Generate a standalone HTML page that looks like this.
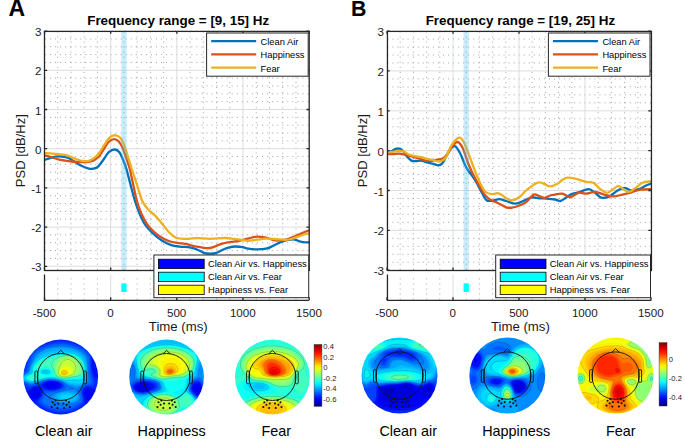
<!DOCTYPE html>
<html><head><meta charset="utf-8"><title>PSD figure</title>
<style>html,body{margin:0;padding:0;background:#fff;}body{width:685px;height:439px;overflow:hidden;font-family:"Liberation Sans", sans-serif;}svg{display:block;}</style>
</head><body>
<svg width="685" height="439" viewBox="0 0 685 439" font-family='"Liberation Sans", sans-serif'>
<defs>
<filter id="bl" x="-20%" y="-20%" width="140%" height="140%"><feGaussianBlur stdDeviation="0.5"/></filter>
<linearGradient id="jet" x1="0" y1="0" x2="0" y2="1"><stop offset="0.000" stop-color="#800000"/><stop offset="0.050" stop-color="#b30000"/><stop offset="0.100" stop-color="#e50000"/><stop offset="0.150" stop-color="#ff1a00"/><stop offset="0.200" stop-color="#ff4c00"/><stop offset="0.250" stop-color="#ff8000"/><stop offset="0.300" stop-color="#ffb300"/><stop offset="0.350" stop-color="#ffe500"/><stop offset="0.400" stop-color="#e5ff1a"/><stop offset="0.450" stop-color="#b3ff4c"/><stop offset="0.500" stop-color="#80ff80"/><stop offset="0.550" stop-color="#4cffb3"/><stop offset="0.600" stop-color="#1affe5"/><stop offset="0.650" stop-color="#00e5ff"/><stop offset="0.700" stop-color="#00b3ff"/><stop offset="0.750" stop-color="#0080ff"/><stop offset="0.800" stop-color="#004cff"/><stop offset="0.850" stop-color="#001aff"/><stop offset="0.900" stop-color="#0000e5"/><stop offset="0.950" stop-color="#0000b3"/><stop offset="1.000" stop-color="#000080"/></linearGradient>
</defs>
<rect width="685" height="439" fill="#fff"/>
<text x="8.60" y="15.90" font-size="23" text-anchor="start" font-weight="bold" fill="#000" >A</text>
<text transform="translate(351.0,15.9) scale(0.93,1)" font-size="23" font-weight="bold">B</text>
<clipPath id="ca"><rect x="44.5" y="31.1" width="264.7" height="239.1"/></clipPath>
<path d="M57.73 269.80V31.10M57.73 299.60V274.50M70.97 269.80V31.10M70.97 299.60V274.50M84.20 269.80V31.10M84.20 299.60V274.50M97.44 269.80V31.10M97.44 299.60V274.50M123.91 269.80V31.10M123.91 299.60V274.50M137.14 269.80V31.10M137.14 299.60V274.50M150.38 269.80V31.10M150.38 299.60V274.50M163.62 269.80V31.10M163.62 299.60V274.50M190.09 269.80V31.10M190.09 299.60V274.50M203.32 269.80V31.10M203.32 299.60V274.50M216.56 269.80V31.10M216.56 299.60V274.50M229.79 269.80V31.10M229.79 299.60V274.50M256.26 269.80V31.10M256.26 299.60V274.50M269.50 269.80V31.10M269.50 299.60V274.50M282.73 269.80V31.10M282.73 299.60V274.50M295.96 269.80V31.10M295.96 299.60V274.50M44.90 38.94H309.20M44.90 46.78H309.20M44.90 54.62H309.20M44.90 62.46H309.20M44.90 78.14H309.20M44.90 85.98H309.20M44.90 93.81H309.20M44.90 101.65H309.20M44.90 117.33H309.20M44.90 125.17H309.20M44.90 133.01H309.20M44.90 140.85H309.20M44.90 156.53H309.20M44.90 164.37H309.20M44.90 172.21H309.20M44.90 180.05H309.20M44.90 195.73H309.20M44.90 203.57H309.20M44.90 211.40H309.20M44.90 219.24H309.20M44.90 234.92H309.20M44.90 242.76H309.20M44.90 250.60H309.20M44.90 258.44H309.20" stroke="#8a8a8a" stroke-width="1" stroke-dasharray="1 4.05" fill="none" opacity="0.78"/>
<path d="M110.67 31.10V270.20M110.67 274.50V300.00M176.85 31.10V270.20M176.85 274.50V300.00M243.02 31.10V270.20M243.02 274.50V300.00M44.50 266.28H309.20M44.50 227.08H309.20M44.50 187.89H309.20M44.50 148.69H309.20M44.50 109.49H309.20M44.50 70.30H309.20" stroke="#dcdcdc" stroke-width="1" fill="none"/>
<g clip-path="url(#ca)" fill="none" stroke-width="2.3" stroke-linejoin="round" stroke-linecap="round">
<path d="M44.50 160.00 C45.30 159.73 47.48 158.97 49.30 158.40 C51.12 157.83 53.37 156.92 55.40 156.60 C57.43 156.28 59.32 156.27 61.50 156.50 C63.68 156.73 66.17 157.03 68.50 158.00 C70.83 158.97 73.17 160.92 75.50 162.30 C77.83 163.68 80.02 165.20 82.50 166.30 C84.98 167.40 88.05 168.68 90.40 168.90 C92.75 169.12 95.00 168.37 96.60 167.60 C98.20 166.83 98.67 165.90 100.00 164.30 C101.33 162.70 103.08 160.08 104.60 158.00 C106.12 155.92 107.40 153.22 109.10 151.80 C110.80 150.38 113.08 149.42 114.80 149.50 C116.52 149.58 118.07 150.68 119.40 152.30 C120.73 153.92 121.67 156.53 122.80 159.20 C123.93 161.87 124.92 164.07 126.20 168.30 C127.48 172.53 129.03 179.15 130.50 184.60 C131.97 190.05 133.48 196.13 135.00 201.00 C136.52 205.87 137.92 209.85 139.60 213.80 C141.28 217.75 142.97 221.52 145.10 224.70 C147.23 227.88 149.67 230.32 152.40 232.90 C155.13 235.48 158.47 238.22 161.50 240.20 C164.53 242.18 167.57 243.73 170.60 244.80 C173.63 245.87 176.47 246.18 179.70 246.60 C182.93 247.02 187.12 246.82 190.00 247.30 C192.88 247.78 194.67 248.57 197.00 249.50 C199.33 250.43 201.82 252.20 204.00 252.90 C206.18 253.60 208.05 253.70 210.10 253.70 C212.15 253.70 214.10 253.60 216.30 252.90 C218.50 252.20 221.12 250.43 223.30 249.50 C225.48 248.57 227.37 247.80 229.40 247.30 C231.43 246.80 233.30 246.53 235.50 246.50 C237.70 246.47 240.52 246.73 242.60 247.10 C244.68 247.47 245.60 248.32 248.00 248.70 C250.40 249.08 253.98 249.40 257.00 249.40 C260.02 249.40 263.38 249.30 266.10 248.70 C268.82 248.10 270.88 246.88 273.30 245.80 C275.72 244.72 278.33 243.13 280.60 242.20 C282.87 241.27 284.63 240.65 286.90 240.20 C289.17 239.75 292.08 239.32 294.20 239.50 C296.32 239.68 297.65 240.82 299.60 241.30 C301.55 241.78 304.30 242.25 305.90 242.40 C307.50 242.55 308.65 242.23 309.20 242.20" stroke="#0072bd"/>
<path d="M44.50 155.30 C45.58 155.60 48.75 156.43 51.00 157.10 C53.25 157.77 55.67 158.72 58.00 159.30 C60.33 159.88 62.67 160.23 65.00 160.60 C67.33 160.97 69.67 161.28 72.00 161.50 C74.33 161.72 76.67 161.80 79.00 161.90 C81.33 162.00 83.67 162.32 86.00 162.10 C88.33 161.88 90.95 161.43 93.00 160.60 C95.05 159.77 97.13 158.00 98.30 157.10 C99.47 156.20 98.95 156.75 100.00 155.20 C101.05 153.65 103.08 150.08 104.60 147.80 C106.12 145.52 107.50 142.93 109.10 141.50 C110.70 140.07 112.58 139.20 114.20 139.20 C115.82 139.20 117.37 139.97 118.80 141.50 C120.23 143.03 121.57 145.65 122.80 148.40 C124.03 151.15 125.07 154.68 126.20 158.00 C127.33 161.32 128.43 163.87 129.60 168.30 C130.77 172.73 131.98 179.15 133.20 184.60 C134.42 190.05 135.53 196.13 136.90 201.00 C138.27 205.87 139.73 210.00 141.40 213.80 C143.07 217.60 144.77 220.77 146.90 223.80 C149.03 226.83 151.47 229.57 154.20 232.00 C156.93 234.43 160.27 236.73 163.30 238.40 C166.33 240.07 168.78 241.08 172.40 242.00 C176.02 242.92 182.07 243.40 185.00 243.90 C187.93 244.40 188.00 244.53 190.00 245.00 C192.00 245.47 194.08 246.17 197.00 246.70 C199.92 247.23 204.58 248.20 207.50 248.20 C210.42 248.20 212.17 247.43 214.50 246.70 C216.83 245.97 219.02 244.57 221.50 243.80 C223.98 243.03 226.62 242.57 229.40 242.10 C232.18 241.63 235.72 241.43 238.20 241.00 C240.68 240.57 242.67 239.90 244.30 239.50 C245.93 239.10 245.88 239.08 248.00 238.60 C250.12 238.12 253.98 236.75 257.00 236.60 C260.02 236.45 263.08 237.07 266.10 237.70 C269.12 238.33 272.08 240.03 275.10 240.40 C278.12 240.77 281.48 240.35 284.20 239.90 C286.92 239.45 288.98 238.60 291.40 237.70 C293.82 236.80 296.28 235.53 298.70 234.50 C301.12 233.47 304.15 232.20 305.90 231.50 C307.65 230.80 308.65 230.50 309.20 230.30" stroke="#d95319"/>
<path d="M44.50 153.10 C45.88 153.18 49.97 153.37 52.80 153.60 C55.63 153.83 58.88 154.13 61.50 154.50 C64.12 154.87 66.17 155.08 68.50 155.80 C70.83 156.52 73.17 157.93 75.50 158.80 C77.83 159.67 80.17 160.70 82.50 161.00 C84.83 161.30 87.15 161.47 89.50 160.60 C91.85 159.73 94.85 157.27 96.60 155.80 C98.35 154.33 98.67 153.70 100.00 151.80 C101.33 149.90 102.88 146.87 104.60 144.40 C106.32 141.93 108.40 138.52 110.30 137.00 C112.20 135.48 114.30 135.12 116.00 135.30 C117.70 135.48 119.18 136.58 120.50 138.10 C121.82 139.62 122.77 141.65 123.90 144.40 C125.03 147.15 126.15 151.00 127.30 154.60 C128.45 158.20 129.20 161.00 130.80 166.00 C132.40 171.00 134.98 178.77 136.90 184.60 C138.82 190.43 140.33 196.75 142.30 201.00 C144.27 205.25 146.57 207.67 148.70 210.10 C150.83 212.53 152.97 213.47 155.10 215.60 C157.23 217.73 159.22 220.17 161.50 222.90 C163.78 225.63 166.37 229.52 168.80 232.00 C171.23 234.48 173.40 236.65 176.10 237.80 C178.80 238.95 182.68 238.77 185.00 238.90 C187.32 239.03 187.70 238.73 190.00 238.60 C192.30 238.47 195.45 238.07 198.80 238.10 C202.15 238.13 205.73 238.82 210.10 238.80 C214.47 238.78 221.05 238.00 225.00 238.00 C228.95 238.00 230.87 238.45 233.80 238.80 C236.73 239.15 240.23 239.77 242.60 240.10 C244.97 240.43 245.60 240.87 248.00 240.80 C250.40 240.73 253.98 240.07 257.00 239.70 C260.02 239.33 263.08 238.72 266.10 238.60 C269.12 238.48 272.08 238.78 275.10 239.00 C278.12 239.22 281.48 239.90 284.20 239.90 C286.92 239.90 288.98 239.60 291.40 239.00 C293.82 238.40 296.28 237.13 298.70 236.30 C301.12 235.47 304.15 234.52 305.90 234.00 C307.65 233.48 308.65 233.33 309.20 233.20" stroke="#edb120"/>
</g>
<rect x="121.26" y="31.1" width="5.29" height="239.1" fill="#4dbfed" opacity="0.3"/>
<rect x="44.50" y="31.40" width="264.70" height="239.10" fill="none" stroke="#262626" stroke-width="1.3"/>
<path d="M44.50 270.20v-2.7M44.50 31.10v2.7M44.50 300.00v-2.7M110.67 270.20v-2.7M110.67 31.10v2.7M110.67 300.00v-2.7M176.85 270.20v-2.7M176.85 31.10v2.7M176.85 300.00v-2.7M243.02 270.20v-2.7M243.02 31.10v2.7M243.02 300.00v-2.7M309.20 270.20v-2.7M309.20 31.10v2.7M309.20 300.00v-2.7M44.50 266.28h2.7M309.20 266.28h-2.7M44.50 227.08h2.7M309.20 227.08h-2.7M44.50 187.89h2.7M309.20 187.89h-2.7M44.50 148.69h2.7M309.20 148.69h-2.7M44.50 109.49h2.7M309.20 109.49h-2.7M44.50 70.30h2.7M309.20 70.30h-2.7M44.50 31.10h2.7M309.20 31.10h-2.7" stroke="#262626" stroke-width="1.3" fill="none"/>
<path d="M44.50 274.50V300.40H309.20" stroke="#262626" stroke-width="1.3" fill="none"/>
<rect x="121.26" y="283.4" width="5.29" height="8.6" fill="#00ffff"/>
<text x="41.50" y="271.38" font-size="11.6" text-anchor="end" font-weight="normal" fill="#1a1a1a" >-3</text>
<text x="41.50" y="232.18" font-size="11.6" text-anchor="end" font-weight="normal" fill="#1a1a1a" >-2</text>
<text x="41.50" y="192.99" font-size="11.6" text-anchor="end" font-weight="normal" fill="#1a1a1a" >-1</text>
<text x="41.50" y="153.79" font-size="11.6" text-anchor="end" font-weight="normal" fill="#1a1a1a" >0</text>
<text x="41.50" y="114.59" font-size="11.6" text-anchor="end" font-weight="normal" fill="#1a1a1a" >1</text>
<text x="41.50" y="75.40" font-size="11.6" text-anchor="end" font-weight="normal" fill="#1a1a1a" >2</text>
<text x="41.50" y="36.20" font-size="11.6" text-anchor="end" font-weight="normal" fill="#1a1a1a" >3</text>
<text x="44.30" y="316.60" font-size="11.6" text-anchor="middle" font-weight="normal" fill="#1a1a1a" >-500</text>
<text x="110.47" y="316.60" font-size="11.6" text-anchor="middle" font-weight="normal" fill="#1a1a1a" >0</text>
<text x="176.65" y="316.60" font-size="11.6" text-anchor="middle" font-weight="normal" fill="#1a1a1a" >500</text>
<text x="242.82" y="316.60" font-size="11.6" text-anchor="middle" font-weight="normal" fill="#1a1a1a" >1000</text>
<text x="309.00" y="316.60" font-size="11.6" text-anchor="middle" font-weight="normal" fill="#1a1a1a" >1500</text>
<text x="178.25" y="331.00" font-size="13.2" text-anchor="middle" font-weight="normal" fill="#1a1a1a" >Time (ms)</text>
<text transform="translate(24.50,150.65) rotate(-90)" font-size="13" text-anchor="middle" fill="#1a1a1a">PSD [dB/Hz]</text>
<text x="178.20" y="25.40" font-size="13.4" text-anchor="middle" font-weight="bold" fill="#000" >Frequency range = [9, 15] Hz</text>
<rect x="206.60" y="33" width="101.6" height="43.2" fill="#fff" stroke="#262626" stroke-width="1"/>
<path d="M211.20 41.10H256.20" stroke="#0072bd" stroke-width="2.3"/>
<text x="260.60" y="45.00" font-size="9.3" text-anchor="start" font-weight="normal" fill="#000" >Clean Air</text>
<path d="M211.20 54.35H256.20" stroke="#d95319" stroke-width="2.3"/>
<text x="260.60" y="58.25" font-size="9.3" text-anchor="start" font-weight="normal" fill="#000" >Happiness</text>
<path d="M211.20 67.60H256.20" stroke="#edb120" stroke-width="2.3"/>
<text x="260.60" y="71.50" font-size="9.3" text-anchor="start" font-weight="normal" fill="#000" >Fear</text>
<rect x="153.90" y="255" width="154.8" height="42.7" fill="#fff" stroke="#262626" stroke-width="1"/>
<rect x="158.40" y="259.20" width="45.8" height="9.4" fill="#0000ff" stroke="#000" stroke-width="0.8"/>
<text x="208.00" y="267.30" font-size="9.3" text-anchor="start" font-weight="normal" fill="#000" >Clean Air vs. Happiness</text>
<rect x="158.40" y="272.20" width="45.8" height="9.4" fill="#00ffff" stroke="#000" stroke-width="0.8"/>
<text x="208.00" y="280.30" font-size="9.3" text-anchor="start" font-weight="normal" fill="#000" >Clean Air vs. Fear</text>
<rect x="158.40" y="285.20" width="45.8" height="9.4" fill="#ffff00" stroke="#000" stroke-width="0.8"/>
<text x="208.00" y="293.30" font-size="9.3" text-anchor="start" font-weight="normal" fill="#000" >Happiness vs. Fear</text>
<clipPath id="cb"><rect x="387.0" y="31.1" width="264.0" height="239.1"/></clipPath>
<path d="M400.20 269.80V31.10M400.20 299.60V274.50M413.40 269.80V31.10M413.40 299.60V274.50M426.60 269.80V31.10M426.60 299.60V274.50M439.80 269.80V31.10M439.80 299.60V274.50M466.20 269.80V31.10M466.20 299.60V274.50M479.40 269.80V31.10M479.40 299.60V274.50M492.60 269.80V31.10M492.60 299.60V274.50M505.80 269.80V31.10M505.80 299.60V274.50M532.20 269.80V31.10M532.20 299.60V274.50M545.40 269.80V31.10M545.40 299.60V274.50M558.60 269.80V31.10M558.60 299.60V274.50M571.80 269.80V31.10M571.80 299.60V274.50M598.20 269.80V31.10M598.20 299.60V274.50M611.40 269.80V31.10M611.40 299.60V274.50M624.60 269.80V31.10M624.60 299.60V274.50M637.80 269.80V31.10M637.80 299.60V274.50M387.40 39.07H651.00M387.40 47.04H651.00M387.40 55.01H651.00M387.40 62.98H651.00M387.40 78.92H651.00M387.40 86.89H651.00M387.40 94.86H651.00M387.40 102.83H651.00M387.40 118.77H651.00M387.40 126.74H651.00M387.40 134.71H651.00M387.40 142.68H651.00M387.40 158.62H651.00M387.40 166.59H651.00M387.40 174.56H651.00M387.40 182.53H651.00M387.40 198.47H651.00M387.40 206.44H651.00M387.40 214.41H651.00M387.40 222.38H651.00M387.40 238.32H651.00M387.40 246.29H651.00M387.40 254.26H651.00M387.40 262.23H651.00" stroke="#8a8a8a" stroke-width="1" stroke-dasharray="1 4.05" fill="none" opacity="0.78"/>
<path d="M453.00 31.10V270.20M453.00 274.50V300.00M519.00 31.10V270.20M519.00 274.50V300.00M585.00 31.10V270.20M585.00 274.50V300.00M387.00 230.35H651.00M387.00 190.50H651.00M387.00 150.65H651.00M387.00 110.80H651.00M387.00 70.95H651.00" stroke="#dcdcdc" stroke-width="1" fill="none"/>
<g clip-path="url(#cb)" fill="none" stroke-width="2.3" stroke-linejoin="round" stroke-linecap="round">
<path d="M387.00 152.70 C387.72 152.48 389.87 152.03 391.30 151.40 C392.73 150.77 394.15 149.33 395.60 148.90 C397.05 148.47 398.68 148.38 400.00 148.80 C401.32 149.22 402.33 150.10 403.50 151.40 C404.67 152.70 405.68 155.07 407.00 156.60 C408.32 158.13 409.93 159.87 411.40 160.60 C412.87 161.33 414.20 161.00 415.80 161.00 C417.40 161.00 419.25 160.42 421.00 160.60 C422.75 160.78 424.40 161.60 426.30 162.10 C428.20 162.60 430.35 163.05 432.40 163.60 C434.45 164.15 436.98 165.40 438.60 165.40 C440.22 165.40 440.95 164.83 442.10 163.60 C443.25 162.37 444.03 160.52 445.50 158.00 C446.97 155.48 449.28 150.47 450.90 148.50 C452.52 146.53 453.67 145.42 455.20 146.20 C456.73 146.98 458.50 150.17 460.10 153.20 C461.70 156.23 463.40 161.43 464.80 164.40 C466.20 167.37 467.30 169.15 468.50 171.00 C469.70 172.85 470.67 173.58 472.00 175.50 C473.33 177.42 474.83 179.60 476.50 182.50 C478.17 185.40 480.33 189.95 482.00 192.90 C483.67 195.85 484.68 198.92 486.50 200.20 C488.32 201.48 490.80 200.77 492.90 200.60 C495.00 200.43 496.85 199.13 499.10 199.20 C501.35 199.27 503.67 200.25 506.40 201.00 C509.13 201.75 512.47 203.80 515.50 203.70 C518.53 203.60 521.87 201.47 524.60 200.40 C527.33 199.33 529.47 197.65 531.90 197.30 C534.33 196.95 536.77 198.08 539.20 198.30 C541.63 198.52 543.87 198.40 546.50 198.60 C549.13 198.80 552.67 199.10 555.00 199.50 C557.33 199.90 558.68 201.30 560.50 201.00 C562.32 200.70 564.08 198.85 565.90 197.70 C567.72 196.55 569.27 195.00 571.40 194.10 C573.53 193.20 575.82 193.12 578.70 192.30 C581.58 191.48 585.97 189.12 588.70 189.20 C591.43 189.28 592.98 191.38 595.10 192.80 C597.22 194.22 598.98 197.10 601.40 197.70 C603.82 198.30 607.02 197.52 609.60 196.40 C612.18 195.28 614.47 192.42 616.90 191.00 C619.33 189.58 621.77 188.00 624.20 187.90 C626.63 187.80 629.07 190.18 631.50 190.40 C633.93 190.62 636.37 190.02 638.80 189.20 C641.23 188.38 644.07 186.42 646.10 185.50 C648.13 184.58 650.18 184.00 651.00 183.70" stroke="#0072bd"/>
<path d="M387.00 154.00 C388.00 154.03 390.98 154.27 393.00 154.20 C395.02 154.13 397.05 153.48 399.10 153.60 C401.15 153.72 403.10 154.40 405.30 154.90 C407.50 155.40 409.97 156.02 412.30 156.60 C414.63 157.18 417.12 157.73 419.30 158.40 C421.48 159.07 423.37 160.17 425.40 160.60 C427.43 161.03 429.60 161.15 431.50 161.00 C433.40 160.85 435.03 160.07 436.80 159.70 C438.57 159.33 440.57 159.45 442.10 158.80 C443.63 158.15 444.37 157.87 446.00 155.80 C447.63 153.73 449.98 148.70 451.90 146.40 C453.82 144.10 455.68 141.70 457.50 142.00 C459.32 142.30 461.00 144.58 462.80 148.20 C464.60 151.82 466.48 159.13 468.30 163.70 C470.12 168.27 471.88 171.95 473.70 175.60 C475.52 179.25 477.37 182.42 479.20 185.60 C481.03 188.78 482.72 192.27 484.70 194.70 C486.68 197.13 489.00 198.85 491.10 200.20 C493.20 201.55 494.75 201.60 497.30 202.80 C499.85 204.00 503.97 206.58 506.40 207.40 C508.83 208.22 509.77 208.02 511.90 207.70 C514.03 207.38 516.77 206.47 519.20 205.50 C521.63 204.53 524.07 203.72 526.50 201.90 C528.93 200.08 531.68 195.57 533.80 194.60 C535.92 193.63 537.38 195.55 539.20 196.10 C541.02 196.65 542.88 198.00 544.70 197.90 C546.52 197.80 548.38 196.05 550.10 195.50 C551.82 194.95 552.97 194.90 555.00 194.60 C557.03 194.30 559.72 193.30 562.30 193.70 C564.88 194.10 567.77 197.15 570.50 197.00 C573.23 196.85 576.12 193.35 578.70 192.80 C581.28 192.25 583.27 193.85 586.00 193.70 C588.73 193.55 592.07 191.75 595.10 191.90 C598.13 192.05 601.17 193.85 604.20 194.60 C607.23 195.35 610.27 196.40 613.30 196.40 C616.33 196.40 619.37 195.28 622.40 194.60 C625.43 193.92 628.47 193.12 631.50 192.30 C634.53 191.48 637.35 190.22 640.60 189.70 C643.85 189.18 649.27 189.28 651.00 189.20" stroke="#d95319"/>
<path d="M387.00 152.30 C388.00 152.22 390.98 152.03 393.00 151.80 C395.02 151.57 397.35 150.97 399.10 150.90 C400.85 150.83 401.88 150.80 403.50 151.40 C405.12 152.00 406.90 153.70 408.80 154.50 C410.70 155.30 412.87 155.77 414.90 156.20 C416.93 156.63 418.95 156.67 421.00 157.10 C423.05 157.53 425.15 158.30 427.20 158.80 C429.25 159.30 431.40 159.65 433.30 160.10 C435.20 160.55 437.13 161.42 438.60 161.50 C440.07 161.58 440.87 161.33 442.10 160.60 C443.33 159.87 444.37 159.77 446.00 157.10 C447.63 154.43 449.70 147.83 451.90 144.60 C454.10 141.37 457.23 138.15 459.20 137.70 C461.17 137.25 462.03 138.93 463.70 141.90 C465.37 144.87 467.37 150.80 469.20 155.50 C471.03 160.20 472.88 165.53 474.70 170.10 C476.52 174.67 478.28 179.25 480.10 182.90 C481.92 186.55 483.47 190.12 485.60 192.00 C487.73 193.88 490.95 194.00 492.90 194.20 C494.85 194.40 495.78 193.07 497.30 193.20 C498.82 193.33 500.48 194.15 502.00 195.00 C503.52 195.85 504.75 197.40 506.40 198.30 C508.05 199.20 509.77 200.57 511.90 200.40 C514.03 200.23 516.77 199.02 519.20 197.30 C521.63 195.58 523.47 192.52 526.50 190.10 C529.53 187.68 534.67 183.93 537.40 182.80 C540.13 181.67 540.78 182.70 542.90 183.30 C545.02 183.90 547.68 186.33 550.10 186.40 C552.52 186.47 555.25 184.85 557.40 183.70 C559.55 182.55 561.27 180.50 563.00 179.50 C564.73 178.50 565.48 177.77 567.80 177.70 C570.12 177.63 573.87 178.40 576.90 179.10 C579.93 179.80 583.27 181.28 586.00 181.90 C588.73 182.52 590.88 181.58 593.30 182.80 C595.72 184.02 598.23 187.53 600.50 189.20 C602.77 190.87 604.77 192.80 606.90 192.80 C609.03 192.80 611.32 190.32 613.30 189.20 C615.28 188.08 616.37 185.65 618.80 186.10 C621.23 186.55 625.18 191.53 627.90 191.90 C630.62 192.27 632.68 189.82 635.10 188.30 C637.52 186.78 639.75 183.97 642.40 182.80 C645.05 181.63 649.57 181.55 651.00 181.30" stroke="#edb120"/>
</g>
<rect x="463.56" y="31.1" width="5.28" height="239.1" fill="#4dbfed" opacity="0.3"/>
<rect x="387.45" y="31.40" width="264.00" height="239.10" fill="none" stroke="#262626" stroke-width="1.3"/>
<path d="M387.00 270.20v-2.7M387.00 31.10v2.7M387.00 300.00v-2.7M453.00 270.20v-2.7M453.00 31.10v2.7M453.00 300.00v-2.7M519.00 270.20v-2.7M519.00 31.10v2.7M519.00 300.00v-2.7M585.00 270.20v-2.7M585.00 31.10v2.7M585.00 300.00v-2.7M651.00 270.20v-2.7M651.00 31.10v2.7M651.00 300.00v-2.7M387.00 270.20h2.7M651.00 270.20h-2.7M387.00 230.35h2.7M651.00 230.35h-2.7M387.00 190.50h2.7M651.00 190.50h-2.7M387.00 150.65h2.7M651.00 150.65h-2.7M387.00 110.80h2.7M651.00 110.80h-2.7M387.00 70.95h2.7M651.00 70.95h-2.7M387.00 31.10h2.7M651.00 31.10h-2.7" stroke="#262626" stroke-width="1.3" fill="none"/>
<path d="M387.45 274.50V300.40H651.45" stroke="#262626" stroke-width="1.3" fill="none"/>
<rect x="463.56" y="283.4" width="5.28" height="8.6" fill="#00ffff"/>
<text x="384.00" y="275.30" font-size="11.6" text-anchor="end" font-weight="normal" fill="#1a1a1a" >-3</text>
<text x="384.00" y="235.45" font-size="11.6" text-anchor="end" font-weight="normal" fill="#1a1a1a" >-2</text>
<text x="384.00" y="195.60" font-size="11.6" text-anchor="end" font-weight="normal" fill="#1a1a1a" >-1</text>
<text x="384.00" y="155.75" font-size="11.6" text-anchor="end" font-weight="normal" fill="#1a1a1a" >0</text>
<text x="384.00" y="115.90" font-size="11.6" text-anchor="end" font-weight="normal" fill="#1a1a1a" >1</text>
<text x="384.00" y="76.05" font-size="11.6" text-anchor="end" font-weight="normal" fill="#1a1a1a" >2</text>
<text x="384.00" y="36.20" font-size="11.6" text-anchor="end" font-weight="normal" fill="#1a1a1a" >3</text>
<text x="386.80" y="316.60" font-size="11.6" text-anchor="middle" font-weight="normal" fill="#1a1a1a" >-500</text>
<text x="452.80" y="316.60" font-size="11.6" text-anchor="middle" font-weight="normal" fill="#1a1a1a" >0</text>
<text x="518.80" y="316.60" font-size="11.6" text-anchor="middle" font-weight="normal" fill="#1a1a1a" >500</text>
<text x="584.80" y="316.60" font-size="11.6" text-anchor="middle" font-weight="normal" fill="#1a1a1a" >1000</text>
<text x="650.80" y="316.60" font-size="11.6" text-anchor="middle" font-weight="normal" fill="#1a1a1a" >1500</text>
<text x="520.40" y="331.00" font-size="13.2" text-anchor="middle" font-weight="normal" fill="#1a1a1a" >Time (ms)</text>
<text transform="translate(367.00,150.65) rotate(-90)" font-size="13" text-anchor="middle" fill="#1a1a1a">PSD [dB/Hz]</text>
<text x="520.40" y="25.40" font-size="13.4" text-anchor="middle" font-weight="bold" fill="#000" >Frequency range = [19, 25] Hz</text>
<rect x="548.40" y="33" width="101.6" height="43.2" fill="#fff" stroke="#262626" stroke-width="1"/>
<path d="M553.00 41.10H598.00" stroke="#0072bd" stroke-width="2.3"/>
<text x="602.40" y="45.00" font-size="9.3" text-anchor="start" font-weight="normal" fill="#000" >Clean Air</text>
<path d="M553.00 54.35H598.00" stroke="#d95319" stroke-width="2.3"/>
<text x="602.40" y="58.25" font-size="9.3" text-anchor="start" font-weight="normal" fill="#000" >Happiness</text>
<path d="M553.00 67.60H598.00" stroke="#edb120" stroke-width="2.3"/>
<text x="602.40" y="71.50" font-size="9.3" text-anchor="start" font-weight="normal" fill="#000" >Fear</text>
<rect x="495.70" y="255" width="154.8" height="42.7" fill="#fff" stroke="#262626" stroke-width="1"/>
<rect x="500.20" y="259.20" width="45.8" height="9.4" fill="#0000ff" stroke="#000" stroke-width="0.8"/>
<text x="549.80" y="267.30" font-size="9.3" text-anchor="start" font-weight="normal" fill="#000" >Clean Air vs. Happiness</text>
<rect x="500.20" y="272.20" width="45.8" height="9.4" fill="#00ffff" stroke="#000" stroke-width="0.8"/>
<text x="549.80" y="280.30" font-size="9.3" text-anchor="start" font-weight="normal" fill="#000" >Clean Air vs. Fear</text>
<rect x="500.20" y="285.20" width="45.8" height="9.4" fill="#ffff00" stroke="#000" stroke-width="0.8"/>
<text x="549.80" y="293.30" font-size="9.3" text-anchor="start" font-weight="normal" fill="#000" >Happiness vs. Fear</text>
<clipPath id="ct1"><circle cx="60.75" cy="377.0" r="37.4"/></clipPath>
<g clip-path="url(#ct1)"><g filter="url(#bl)">
<rect x="20.35" y="336.6" width="80.8" height="80.8" fill="#0000f2"/>
<path fill="#000dff" d="M21.3 337.6l78.9 0 0 78.8-78.9 0zM45.4 385.5l0.5 1 1.5 1 2.9 0.7 2 0.1 4.2-0.8 1.7-1 0.5-1-0.2-1-0.9-1-2.2-1-3.1-0.4-3 0.2-2.9 1.2-0.8 1zM36.3 388.1l-2 0.2-1.9 1.2-1.1 1.2-0.9 1.8-0.1 2 0.7 2 0.8 0.9 1.5 1 2 0.1 2-0.7 1.6-1.3 1.1-2 0.3-2-1-2.8-1.5-1.2zM87.2 388.8l-1 0.4-1.2 1.3-0.3 1 0 2 1.9 5.9 0.9 1 1.7 0.3 2-1.2 1-1.5 0.8-2.5 0-2-0.6-2-1.2-1.4-2-1.2z"/>
<path fill="#0026ff" d="M21.3 337.6l78.9 0 0 78.8-78.9 0zM95.2 354.2l-1 0.8-1.4 3.5-0.6 3.1-0.1 4.9 1.1 6.7 1 2.3 1 1.2 1 0.5 1.3-0.7 0.7-1 0.7-2 0.6-4 0-4-0.5-4-1-4-0.8-1.7-1-1.3zM42.8 385.5l0.1 1 0.9 1 1.9 1 2.6 0.7 3 0.4 3-0.3 3.5-0.8 2-1 0.9-1 0.3-1-0.3-1-0.8-1-1.5-1-3-1-4.1-0.3-3.1 0.3-2.9 1-1.4 1-0.8 1zM38.3 387.0l-3-0.3-2.3 0.8-4.1 3-1.2 2-0.1 3 0.8 1.9 1.9 2.5 2 1.2 2 0.2 1-0.3 4-3.1 1.7-2.4 0.5-3-0.4-3-0.8-1.4zM87.2 387.2l-2 0.9-1.2 1.4-0.8 2 0 2 2.1 8.9 0.9 1.4 1 0.5 2 0.1 1-0.2 2-1.3 1.3-1.5 1.2-2 0.9-2.9 0.1-4-0.7-2-0.7-1-1.1-0.8-4-1.5z"/>
<path fill="#0040ff" d="M37.3 348.0l7-3 7-2.1 6-1 6.9 0 7 1.2 6 1.9 7 3 3 1.8 2 1.8 1.1 2 0.5 2 0 9.9 0.5 6 0.9 4 2.2 6 0 2-0.3 1-0.9 1.2-1 0.5-4-0.3-2 0.4-1.8 1.2-1.2 1.3-0.8 1.7-0.2 2 1.2 6.9 0 2-0.6 2-0.7 1-1.9 1.7-5 2.8-6 2-5 0.9-4.9 0.1-6-0.8-5-1.5-5-2.3-4-3-1.2-1.9 0-1 0.4-1 3.1-3.9 0.7-2 0.6-4 0.4-0.8 1-0.2 6 1 3-0.1 5-1.1 2.1-0.8 1.5-1 0.7-1 0.1-1-0.4-1-2.2-2-2.3-1-5.5-0.9-5 0.5-1.7 0.4-2.2 1-3.1 2.7-1 0.3-5 0.5-5 1.8-1.2-0.3-2.9-2-3.9-1.5 0-12.1 2.6-1.4 1.4-1.8 1.5-5.2 0.9-6 0.7-1.9 1.3-2 2-2z"/>
<path fill="#0059ff" d="M58.3 343.6l3.9 0 4 0.3 7 1.5 5 1.8 4 1.9 3 1.8 2 1.7 1.4 2 0.9 2.9 0.9 15 0.5 3 1.7 6-0.4 2-0.9 1-4.1 0.5-2 0.8-2.1 1.7-1.4 2-0.4 3 0.9 4.9 0.1 3-0.7 2-0.9 1-3.5 2.4-4 1.9-5 1.5-5 0.7-6.9-0.2-4-0.8-3-0.9-3.5-1.6-3.3-2-2.1-2-0.3-1 0.2-1 2.4-3.9 1.2-4 0.6-1 1.8-0.4 5 0.3 4-0.5 5.2-1.4 2.7-1.5 0.6-0.5 0.5-1-0.2-1-1.4-2-1.3-1-2-1-3.6-1-3.5-0.3-4 0.1-4.4 1.2-4.6 2.6-9 2.1-1-0.2-2.5-1.5-5.5-2.6 0-7.9 4-2.2 1.3-1.3 4.2-13 0.9-1.9 1.5-2 4.1-3.4 6-3 7-2.3 4-0.9z"/>
<path fill="#0073ff" d="M40.9 349.6l5.4-2.4 7-1.8 6-0.6 5.9 0.2 7 1.3 6 2.1 5.7 3.2 3 3 1.1 2 0.5 1.9 1.1 16 1.1 5 0.2 2-0.7 1.4-4 1.5-3 1.8-1.4 1.3-1.4 2-0.3 2 1.1 5 0.1 2.9-0.7 2-1.4 1.4-3 1.8-4 1.6-4 1.2-3 0.5-4 0.2-2.9-0.1-4.2-0.6-3.5-1-2.6-1-3.5-2-1.2-1-0.6-1 0-1 2.6-6.4 1-0.9 7-0.8 5-1.2 5.1-1.6 2-1 0.8-1 0-1-0.5-1-1.8-2-3.2-2-2.9-1-3.5-0.6-4-0.1-5.1 0.7-7.9 3.3-7 1.2-7-3.2-2-1.4 0-4.9 4.9-3 1.1-1 1-2 1.5-5 2.3-6 1.5-2.9 2.7-3z"/>
<path fill="#008cff" d="M38.3 352.5l4.9-2.9 6.1-2.2 7-1.2 6.9-0.1 6 0.7 6.7 1.8 2.4 1 3.6 2 3.4 3 1.3 2 0.9 2.9 1 16 0.7 5-0.3 1-1.1 1-3.6 2-5 3.4-4 1.6 1 0.3 2 2.1 1.7 3.6 0.3 2.9-0.8 2-1 1-2.2 1.3-4 1.3-5 0.6-4 0-3.9-0.6-4-1.2-3-1.6-1.9-1.8-0.7-2 0.2-0.9 0.7-1 1.3-1 2.1-1 8.2-2.6 5-1.1 6-0.8 1-0.5-4-1.5-2-1.1-4.5-3.4-2.5-1.3-2.9-1-3-0.6-3-0.2-3.7 0.1-5 1-6.3 2.5-6 1.1-2-0.3-4-1.8-2.5-1.5-0.9-1-0.5-1 0-1 0.5-1 1.4-1.4 4.2-2.6 0.9-1 2.3-7 3.3-7 2.1-2.9z"/>
<path fill="#00a6ff" d="M85.8 358.5l0.9 4 0.8 7-0.2 11-0.6 1-1 1-5.5 3.4-3 0.3-7-1.1-2-0.7-5.1-2.9-2.6-1-4.2-1.1-3-0.4-4 0.1-3 0.3-3 0.7-7 2.6-4 0.6-2-0.1-3-1-3-1.5-1.3-1.2-0.5-1 0-1 0.8-1.3 5.4-3.7 0.8-1 1.3-5 0.8-2 2.7-4.9 2-3.1 2-2.2 2.3-1.7 3.7-2 2.6-1 5.4-1.3 6.7-0.7 6.2 0.1 6.1 0.9 5.9 1.9 3.8 2.1 3.2 2.9zM54.1 396.5l0.6-1 1-1 1.8-1 2.8-1 4.9-1 4-0.1 4 0.6 3 1.2 1 0.7 1 1.3 0.5 2.2-0.8 2-1.2 1-2 1-4.5 1.2-5 0.2-4.9-0.8-3.8-1.6-1.3-1-0.8-1-0.3-1z"/>
<path fill="#00bfff" d="M23.5 377.5l0.6-1 1-1 4.7-3 0.6-1 0.9-4 1.2-3 2.8-4.3 2-2.3 2-1.8 3-1.9 3-1.4 5-1.5 7-1 7.9-0.3 5 0.4 5 1.3 4 1.9 3 2.4 2.4 3.5 1.3 4 0.7 4 0.2 4-0.2 4-0.6 4-0.8 1.7-1.3 1.3-2.7 1.8-2 0.6-2 0-7-1-8.4-3.4-4.5-1.3-4-0.5-3-0.1-4 0.4-4 0.9-6 2.2-4 0.6-2-0.1-2-0.5-3.1-1.6-1.1-1-0.6-1zM57.0 397.4l0-0.9 0.6-1 1.3-1 3.3-1.3 4-0.6 3 0.1 3.5 0.8 2.1 1 1.1 1 0.5 1 0 0.9-0.4 1-1.1 1-2.7 1.3-4.4 0.7-3.6-0.1-3.7-0.9-2.2-1.2-0.8-0.8z"/>
<path fill="#00d9ff" d="M85.3 364.5l0.6 3 0.3 4-0.2 3-0.8 3.6-1 2.2-1 1.1-2 1.4-1.7 0.7-2.3 0-7-1-11.9-3.4-6-0.9-4 0.1-4 0.6-8 2.6-5 0.6-2-0.3-2-0.8-2.2-1.5-0.6-1 0-1 0.6-1 1.1-1 3.5-2 1.2-1 0.5-1 0.6-4 0.8-2 1.5-2.5 2-2.3 2-1.9 3-2 4-1.8 4-1.1 5-0.8 11.9-1.2 4 0.2 4 0.9 4 1.8 3.6 2.7 2.1 3zM43.8 371.5l0.4 1 1.1 0.3 2.4-0.3 0.1-1-0.5-0.2-2-0.3zM60.8 397.4l0.1-0.9 0.9-1 3.4-1.1 4 0.1 2.5 1 0.9 1 0.1 0.9-0.9 1-2.3 1-1.3 0.2-4.2-0.2-2.3-1z"/>
<path fill="#00f2ff" d="M84.9 365.5l0.7 5-0.5 5-0.9 2.2-1 1.3-2 1.1-2 0.2-5-0.3-8 0.4-3-0.4-7.9-2-5-0.3-5 0.5-4 1-5 1.7-2.9 0.6-2.1 0-2-0.3-1.7-0.7-1.4-1-0.7-1 0-1 0.6-1 1.2-1 3.9-2 0.9-1 0.4-4 0.6-2 1.2-2.2 2-2.4 3-2.5 3-1.7 4-1.7 4-1.1 15.9-1.9 4 0.1 4 0.9 4 1.9 3.2 2.6 2.1 3zM41.5 371.5l0.4 1 3.4 1.3 3-0.2 1.6-1.1-0.1-1-0.5-0.5-2-0.8-2-0.2-2 0.3z"/>
<path fill="#0dfff2" d="M84.4 365.5l0.6 5-0.5 4-0.3 1.1-1 1.5-2 1.1-16 1.5-3-0.4-8.9-2.1-4-0.2-6 1-7.7 2.5-3.3 0.4-3.2-0.4-1.8-1-0.7-1 0-1 0.7-1 5.4-3 0.6-1 0-4 0.6-2 1.1-2 1.8-2 2.5-2 3.5-2 3.5-1.4 4-1.1 14.9-2.3 4 0 3 0.5 3 1 2 1 3 2.2 2.6 3.1zM39.5 371.5l0.4 1 1.5 1 1.9 0.7 3 0.6 2-0.1 2-0.7 0.6-0.5 0.4-1-0.1-1-0.9-1.1-2-0.9-2-0.3-4 0.4-2 0.9z"/>
<path fill="#26ffd9" d="M84.2 367.4l0.2 4.1-0.7 3-0.5 1-1 1-3 1-13 1.6-3 0-2.9-0.6-6.8-2-1.8-1 0.7-2 0.1-1-0.2-1-1-1.5-2-1.2-4-0.4-5 0.8-2.5 1.3-0.7 1 0.5 1 1.4 1 4.9 2 1.1 1-5.7 1.7-3.1 1.3-2.9 0.6-3-0.1-1.3-0.5-1-1-0.1-1 0.9-1 4.5-1.9 1.2-1.1 0.5-1 0.1-1-0.7-2 0.1-2 0.8-2 2-2.3 2.2-1.7 3.8-2 5-2 4-0.9 13.9-2.3 3 0 4 0.8 4 1.8 3.3 2.6 2.1 3 0.8 2z"/>
<path fill="#40ffbf" d="M83.7 370.5l-0.3 2-0.8 2-0.9 1-1.5 0.8-3 0.7-13 1.7-3-0.4-5.3-1.8-1.6-1-0.5-1-0.3-2-0.7-2-1.5-1.9-1-0.7-2-0.5-3-0.2-3 0.2-5 0.9-1.1-0.8 0.1-1 0.6-1 1.8-2 1.6-1.1 4-1.8 6.1-2.1 10.9-2.9 3.9-0.7 3-0.1 3 0.4 3 0.9 2.9 1.4 2.5 2 1.7 2 1.5 3 0.8 3zM30.2 378.5l-0.1-1 2-1 4.2-0.4 1 0.4-2.2 2-2.8 0.5z"/>
<path fill="#59ffa6" d="M51.9 363.5l1.1-2 1.8-2 1.3-1 3.2-1.5 2.9-1 3-0.5 3-0.1 3 0.4 2.6 0.8 2 0.9 2.7 2 1.8 2 1.2 2 1.1 3 0.3 3-0.2 2-0.5 1.5-1.1 1.5-1.4 1-1.5 0.5-12 2.2-3 0.1-2-0.4-3.8-1.4-1.5-1-0.8-1-1.2-4-2.3-5z"/>
<path fill="#73ff8c" d="M54.9 363.5l1-2 1.6-2 2.9-2 2.6-0.9 3.2-0.6 3 0.1 2.6 0.5 4.2 1.9 2.3 2 1.6 2 1.3 2.8 0.5 2.2 0.1 2-0.4 2-1.2 2.1-1.2 0.9-2.3 1-10.5 2.3-3 0.1-2-0.4-2.5-1-1.5-1-1.4-2-1.5-6 0-2z"/>
<path fill="#8cff73" d="M57.5 362.5l2.3-3 1.3-1 2.1-1.1 4-0.7 2 0.1 3 0.7 3.4 2 1.8 2 1.3 2 0.7 2 0.3 2-0.1 2-0.5 2-1.4 2-1.3 1-3.2 1.3-8 1.7-3-0.1-1.9-0.7-2-1.2-0.9-1-1.1-3-0.3-3 0.2-2 0.4-2z"/>
<path fill="#a6ff59" d="M62.1 359.5l3.1-1.4 3-0.4 3.4 0.8 2.9 2 2 3 1 4-0.1 2-0.5 2-1.3 2-1.3 1-2.4 1-6.7 1.6-3-0.1-1.4-0.5-1.6-1-0.9-1-0.8-2-0.1-2 0.3-3 0.8-3 1-2 1.5-2z"/>
<path fill="#bfff40" d="M71.2 360.3l2.6 2.2 1.5 3 0.3 2 0 2-1.1 3-0.8 1-1.4 1-2.2 1-3.9 1.1-2 0.2-2-0.2-2.2-1.1-1.4-2-0.2-3 0.9-3.3 1.9-4.1 2-2.1 3-1.5 3 0z"/>
<path fill="#d9ff26" d="M59.4 370.5l0.9-2.1 1.9-2.4 2-1.1 2-0.3 3 0.7 2 1.4 1.3 1.8 0.4 2-0.5 2-0.7 1-1.2 1-3.3 1.4-3 0.6-3-0.7-1.4-1.3-0.6-2z"/>
<path fill="#f2ff0d" d="M69.9 369.5l0.5 1 0.1 2-0.5 1-1 1-1.9 1-2.9 0.6-2-0.3-1.7-1.3-0.5-1-0.1-1 0.5-2 0.8-1.3 2-1.4 2-0.3 2 0.2 1.6 0.8z"/>
<path fill="#fff200" d="M60.9 371.5l1.3-1.6 1-0.5 2-0.3 2 0.6 1 0.8 0.6 1 0.2 1-0.4 1-1.4 1.3-2 0.8-2 0-2-1.1-0.5-1z"/>
<path fill="#ffd900" d="M65.2 370.5l1 0.3 0.9 0.7 0.5 1-0.2 1-0.9 1-1.3 0.5-2 0.1-1.2-0.6-0.6-1 0-1 0.5-1 1.3-0.9z"/>
<path fill="#ffbf00" d="M66.2 372.5l0 1-1.2 1-1.8 0-0.9-1 0.1-1 0.8-0.7 1-0.3 1 0.2z"/>
<path fill="#ffa600" d="M64.2 373.1l0.4 0.4-0.4 0.2-0.4-0.2z"/>
</g>
<path fill="none" stroke="#000" stroke-opacity="0.35" stroke-width="0.45" d="M95.2 354.2l-1 0.8-1.4 3.5-0.6 3.1-0.1 4.9 1.1 6.7 1 2.3 1 1.2 1 0.5 1.3-0.7 0.7-1 0.7-2 0.6-4 0-4-0.5-4-1-4-0.8-1.7-1-1.3zM42.8 385.5l0.1 1 0.9 1 1.9 1 2.6 0.7 3 0.4 3-0.3 3.5-0.8 2-1 0.9-1 0.3-1-0.3-1-0.8-1-1.5-1-3-1-4.1-0.3-3.1 0.3-2.9 1-1.4 1-0.8 1zM38.3 387.0l-3-0.3-2.3 0.8-4.1 3-1.2 2-0.1 3 0.8 1.9 1.9 2.5 2 1.2 2 0.2 1-0.3 4-3.1 1.7-2.4 0.5-3-0.4-3-0.8-1.4zM87.2 387.2l-2 0.9-1.2 1.4-0.8 2 0 2 2.1 8.9 0.9 1.4 1 0.5 2 0.1 1-0.2 2-1.3 1.3-1.5 1.2-2 0.9-2.9 0.1-4-0.7-2-0.7-1-1.1-0.8-4-1.5zM38.3 352.5l4.9-2.9 6.1-2.2 7-1.2 6.9-0.1 6 0.7 6.7 1.8 2.4 1 3.6 2 3.4 3 1.3 2 0.9 2.9 1 16 0.7 5-0.3 1-1.1 1-3.6 2-5 3.4-4 1.6 1 0.3 2 2.1 1.7 3.6 0.3 2.9-0.8 2-1 1-2.2 1.3-4 1.3-5 0.6-4 0-3.9-0.6-4-1.2-3-1.6-1.9-1.8-0.7-2 0.2-0.9 0.7-1 1.3-1 2.1-1 8.2-2.6 5-1.1 6-0.8 1-0.5-4-1.5-2-1.1-4.5-3.4-2.5-1.3-2.9-1-3-0.6-3-0.2-3.7 0.1-5 1-6.3 2.5-6 1.1-2-0.3-4-1.8-2.5-1.5-0.9-1-0.5-1 0-1 0.5-1 1.4-1.4 4.2-2.6 0.9-1 2.3-7 3.3-7 2.1-2.9zM84.9 365.5l0.7 5-0.5 5-0.9 2.2-1 1.3-2 1.1-2 0.2-5-0.3-8 0.4-3-0.4-7.9-2-5-0.3-5 0.5-4 1-5 1.7-2.9 0.6-2.1 0-2-0.3-1.7-0.7-1.4-1-0.7-1 0-1 0.6-1 1.2-1 3.9-2 0.9-1 0.4-4 0.6-2 1.2-2.2 2-2.4 3-2.5 3-1.7 4-1.7 4-1.1 15.9-1.9 4 0.1 4 0.9 4 1.9 3.2 2.6 2.1 3zM41.5 371.5l0.4 1 3.4 1.3 3-0.2 1.6-1.1-0.1-1-0.5-0.5-2-0.8-2-0.2-2 0.3zM51.9 363.5l1.1-2 1.8-2 1.3-1 3.2-1.5 2.9-1 3-0.5 3-0.1 3 0.4 2.6 0.8 2 0.9 2.7 2 1.8 2 1.2 2 1.1 3 0.3 3-0.2 2-0.5 1.5-1.1 1.5-1.4 1-1.5 0.5-12 2.2-3 0.1-2-0.4-3.8-1.4-1.5-1-0.8-1-1.2-4-2.3-5zM71.2 360.3l2.6 2.2 1.5 3 0.3 2 0 2-1.1 3-0.8 1-1.4 1-2.2 1-3.9 1.1-2 0.2-2-0.2-2.2-1.1-1.4-2-0.2-3 0.9-3.3 1.9-4.1 2-2.1 3-1.5 3 0zM65.2 370.5l1 0.3 0.9 0.7 0.5 1-0.2 1-0.9 1-1.3 0.5-2 0.1-1.2-0.6-0.6-1 0-1 0.5-1 1.3-0.9z"/>
</g>
<g fill="none" stroke="#111" stroke-width="0.9">
<circle cx="60.75" cy="377.0" r="23.5"/>
<path d="M57.15 353.80 L60.75 350.30 L64.35 353.80"/>
<rect x="34.95" y="371.00" width="2.9" height="12.8" rx="1.2"/>
<rect x="83.65" y="371.00" width="2.9" height="12.8" rx="1.2"/>
</g>
<g fill="#111"><circle cx="55.45" cy="400.50" r="1.05"/><circle cx="66.05" cy="400.50" r="1.05"/><circle cx="52.65" cy="402.20" r="1.05"/><circle cx="68.85" cy="402.20" r="1.05"/><circle cx="58.15" cy="403.50" r="1.05"/><circle cx="63.35" cy="403.50" r="1.05"/><circle cx="54.75" cy="404.70" r="1.05"/><circle cx="66.75" cy="404.70" r="1.05"/><circle cx="51.65" cy="407.00" r="1.05"/><circle cx="69.85" cy="407.00" r="1.05"/><circle cx="57.45" cy="408.00" r="1.05"/><circle cx="64.05" cy="408.00" r="1.05"/></g>
<clipPath id="ct2"><circle cx="166.6" cy="377.0" r="37.4"/></clipPath>
<g clip-path="url(#ct2)"><g filter="url(#bl)">
<rect x="126.19999999999999" y="336.6" width="80.8" height="80.8" fill="#0000d9"/>
<path fill="#0000f2" d="M127.2 337.6l78.8 0 0 78.8-78.8 0zM137.2 387.5l0.2 1 0.9 1 1.9 0.8 3 0.2 2.6-1 0.9-1 0.2-1-0.4-1-1.1-1-3.2-0.8-2 0.2-1.5 0.6-1.1 1z"/>
<path fill="#000dff" d="M127.2 337.6l78.8 0 0 78.8-78.8 0zM135.3 387.5l0.9 1.9 1.4 1.1 2.6 0.9 2 0.2 2-0.2 2.9-0.9 1.6-1 0.9-1 0.4-1-0.1-1-0.5-1-1.1-1-2.3-1-2.8-0.4-3.6 0.4-2.4 1-1.2 1-0.5 1zM196.0 383.7l-1 0.5-1.1 1.3-0.8 2 0 2 0.9 1.8 1.2 1.2 1.8 1.2 1 0 1-0.4 1.3-1.8 0.5-2-0.1-2-0.7-2-1-1.1-2-0.8z"/>
<path fill="#0026ff" d="M127.2 337.6l78.8 0 0 78.8-78.8 0zM134.0 387.5l1 2 2.2 1.6 3 0.9 3 0.1 3.6-0.6 2.5-1 3.1-2 0.8-1 0.3-1-0.1-1-0.6-1-1.4-1-3.3-1.1-4.9-0.4-3.9 0.5-2.6 1-1.5 1-0.8 1zM196.0 382.2l-2 1.1-1 1.2-1 2.4-0.1 2.6 0.9 2 2.2 2.3 2 1.3 1 0.1 1.7-0.7 1.3-1.7 0.8-2.3 0-3-0.8-2.6-1-1.5-2-1.2z"/>
<path fill="#0040ff" d="M127.2 337.6l78.8 0 0 78.8-78.8 0zM132.9 386.5l0.3 2 2 2.2 3 1.4 4 0.6 4-0.5 5.3-1.7 3.7-2 0.8-1 0.3-1-0.1-1-0.4-1-0.9-1-1.7-1-3.6-1-5.4-0.4-4.1 0.4-3.9 1.2-1.5 0.8-1 1zM197.0 381.0l-2 0.5-1 0.6-1.3 1.4-1.3 3-0.3 3 0.8 2 3.1 3.3 2 1.3 1 0.1 2-0.8 1.5-1.9 0.8-2 0.4-3-0.6-3-1.1-2.3-2-1.8z"/>
<path fill="#0059ff" d="M127.2 337.6l78.8 0 0 78.8-78.8 0zM131.7 386.5l0.5 2 0.7 1 2.3 1.9 3 1.3 4 0.5 4.9-0.6 6.6-2.1 2.2-1 1.3-1 0.6-1 0.2-1-0.5-2-0.7-1-1.3-1-2.3-1-2.1-0.5-5.9-0.6-5 0.4-5 1.2-2.2 1.5-0.8 1.1zM197.0 380.1l-3 1.1-2 2.1-1.2 3.2-0.3 3 0.7 2 2.8 3 2 1.9 2 0.6 2-0.7 2-2.3 1-2.5 0.3-3-0.2-2-0.6-2-1.5-2.6-2-1.5z"/>
<path fill="#0073ff" d="M127.2 337.6l78.8 0 0 78.8-78.8 0zM198.0 379.1l-3 0.7-2.4 1.7-1.8 3-0.9 4 0.2 2 1.3 2 4.6 4.6 1 0.5 1 0.2 2-0.7 1-0.8 1.5-1.8 1.1-3 0.3-3-0.5-3-1.4-3.5-2-2.3zM130.8 387.5l1 2 2.4 2 4 1.7 4 0.5 3-0.3 2.9-0.6 7.6-2.3 1.9-1 1.1-1 0.4-1 0.1-1-0.5-2-0.5-1-1-1-1.9-1-4.2-1.1-5.9-0.6-4 0.2-7 1-2 1.4-0.8 1.1-0.7 2z"/>
<path fill="#008cff" d="M127.2 337.6l78.8 0 0 78.8-78.8 0zM131.2 365.7l-1 2.6-0.3 3.2 0.3 2.7 1.4 4.3 0.1 1-2.1 5-0.2 2 0.6 2 1.6 2 1.6 1.2 3 1.5 3 0.8 4 0.2 3-0.4 5.3-1.3 5.6-1.9 2.1-1.1 0.8-1 0.2-1-0.2-2-0.9-2.2-0.7-0.8-1.5-1-2.8-1-6-1.1-4.9-0.2-6 0.4-2-0.5-0.7-0.6-0.1-1 0.7-6-0.9-4.7-1-1.5-1-0.4zM200.0 377.6l-2 0.2-3 1.2-2 1.2-1 0.9-1 1.5-0.8 1.9-0.9 4 0.2 2 1.3 2 5.2 5.3 2 0.7 2-0.5 2-1.7 1.6-2.8 0.8-3 0-3-0.9-4-1.5-3.4-1-1.6z"/>
<path fill="#00a6ff" d="M127.2 337.6l78.8 0 0 78.8-78.8 0zM131.0 362.5l-1.2 2-1 4-0.1 5 0.9 6-0.3 2-1.3 4 0 1 0.6 2 1.6 2 3 2.2 3 1.3 3 0.6 3 0.2 4.9-0.6 5-1.3 6-2 2.5-1.4 0.5-1 0.1-1-0.6-3-1.1-2-1.3-1-3.1-1.2-6-1.3-4.9-0.4-6 0.1-1-0.3-0.8-0.9-0.2-1-0.2-6-1.1-5-0.7-1.8-1-1.3-1-0.4zM201.0 364.7l-1 0.4-1 1.6-0.9 3.8-0.6 5-0.5 1-1 0.9-3 1.8-2 2.1-1.4 3.2-0.9 4 0.2 2 1.3 2 5.8 6 1 0.6 1 0.3 2-0.4 1-0.7 1.8-1.8 1.6-3 0.8-4-0.4-4-1.8-7 0.5-7-0.2-3-1.1-3z"/>
<path fill="#00bfff" d="M127.2 337.6l78.8 0 0 48.9-1.2-7 0.4-8-0.4-5-0.8-2.6-1-1.9-1-0.9-1-0.1-1 0.6-1 1.5-1 2.6-1.5 7.8-0.7 2-0.7 1-3.8 3-1.3 2-1.5 5-0.4 3 0.1 1 1.4 2 3.1 3 3.3 3.8 1 0.8 1 0.4 1 0 2-0.7 2.5-2.4 1.2-1.9 0.8-2 0.5-2.7 0 25.6-78.8 0 0-27 3 2.9 3 1.7 4 1.2 5 0.5 4.9-0.8 11.6-3.4 2.4-1.1 0.9-0.9 0.2-1-0.2-2-0.8-3-0.6-1-1.5-1.2-2-0.8-5-1.4-5.9-0.9-7-0.6-1-0.5-0.8-1.6-1.1-8-1.1-4.1-1-2.3-1-1.4-1-0.6-1 0.1-1.4 1.3-1 2-0.9 3-0.6 6 0.5 8-0.6 2.4z"/>
<path fill="#00d9ff" d="M127.2 342.0l0-4.4 14.6 0-8.6 1.7-3.6 1.3zM191.3 337.6l14.7 0 0 4.5-2.5-1.5-3.5-1.2zM127.2 346.3l5 3.8 4-1.2 6.7-1.3 10.2-2.6 9-1.2 7-0.1 6 0.4 5 0.9 10.9 2.7 9 1.4 1-0.1 2-0.8 3-2.1 0 13.5-1.3-3-1.7-2.1-1-0.4-1 0.5-1 2-2 6-2.7 10.9-1.1 2-3.5 3-1.5 2-2.1 9 0.2 1 0.6 1 5.2 5 3.9 5.3 2 1.4 2-0.1 2-1.1 1.6-1.6 1.4-1.8 0 17.8-78.8 0 0-22 3 1.6 3 1.1 4 0.7 3-0.1 4-0.9 8.9-3.1 7.8-2.2 2-1 0.6-1-0.3-2-1.1-4-0.5-1-1-1-2.1-1-3.4-1.1-14.9-3-1-0.7-1-2.2-2-9.4-3-10.8-1-1.6-1-0.1-1 0.8-1.6 2.2-1.4 2.9z"/>
<path fill="#00f2ff" d="M142.2 350.0l7.9-2.9 6-1.4 7-0.8 8 0 8 1.2 7.9 2.2 6 2.6 3 2.6 1.2 2.1 0.5 2.9-0.3 3-2 9-0.7 2-1.3 2-4.7 4-0.8 1-0.4 1-0.5 4.3-1.5 4.7-0.1 1 1 1 3.6 2.5 2.5 2.5 1.5 1.9 1.5 3 0.3 2-0.4 2-1.2 2-1.2 1.2-2 1.4-2 0.8-5.9 1.1-5 3.3-2.4 1.2-24.2 0-4.4-2.6-2.4-2.4-1.4-2-0.8-2-0.2-3 0.7-3 0.5-1 1.7-2 2.9-1.9 3-1.5 5-1.6 7.8-1.9 1.3-1-0.1-1-2.3-7-1-1-1.9-1-3.8-1.2-12.9-3.1-2-0.8-1-0.8-0.8-1.1-1.6-5-1.6-8-0.2-3 0.4-1.9 1-2 2.1-2z"/>
<path fill="#0dfff2" d="M189.0 350.3l3 1.8 1.8 1.5 1.6 2 0.9 1.9 0.3 2-0.2 3-1.7 8-1 2-1.7 2-6.6 5-0.3 1 0.2 3-0.3 2-0.9 2-1 1.2-3 1.8-7.4 2 2.7 2 2.7 1 1-0.1 3-1.9 2-0.8 2 0 1.9 0.7 3 2.2 1.7 1.8 1.2 2 0.7 3-0.4 2-0.4 1-1.7 2-2.1 1.4-2 0.6-4.9 0.5-1 0.3-5 3.9-3 1.5-2.3 0.8-16.4 0-2.3-0.8-3-1.5-3.2-2.7-1.5-2-0.9-2-0.3-2 0.1-2 0.7-2 1.2-2 1.9-1.8 1.7-1.1 4.6-2 5.7-1.5 9.3-1.5-3.3-4.1-1.8-4.9-0.9-1-2-1-17.2-4.8-2-1-1.4-1.2-1.7-3-1.8-8-0.2-4 1-2.9 1.6-2 1.5-1.3 5-2.8 6.9-2.2 8-1.4 7-0.3 7 0.6 8 1.8z"/>
<path fill="#26ffd9" d="M138.3 358.5l0.9-2.1 2.4-2.8 2.8-2 4.1-2 4.6-1.5 6-1.2 5-0.5 6 0 6 0.7 5 1.1 5 1.8 3.9 2.1 3 2.4 1.6 2.1 1 2.9 0.1 3-0.7 4.4-1.1 3.6-1.9 2.8-3 2.4-3.9 2.3-5 2-5 1.2-7 0.1-6-1.1-16.1-4.7-3.6-2-1.2-1.3-1-1.5-1-2.6-1.1-5.6zM145.4 405.4l0.2-2 0.7-2 1.3-2 2.1-2 3.4-1.9 3-1 3-0.8 4-0.5 4-0.1 4 0.8 7 3.2 1 0 1-0.5 2-1.5 2-1 2-0.2 0.9 0.1 2 0.9 2 1.6 2 2.9 0.5 2-0.2 2-0.4 1-0.9 1.4-2 1.6-3 1-4.9 0.1-1 0.6-3.4 3.3-2.6 1.7-4 1.6-3 0.7-9 0-3-0.7-3-1.1-3-1.7-2.6-2.5-1.7-3z"/>
<path fill="#40ffbf" d="M139.3 359.5l0.9-2.2 2.2-2.7 2.8-2.2 3.9-2 5.4-1.8 5-1 5.6-0.5 6 0.1 5 0.7 5 1.1 4.2 1.6 3.7 2 3 2.5 1.9 2.4 0.9 3 0.1 3-0.7 4-1.2 3.2-2.3 2.8-3.7 2.6-1.9 1-3 0.9-9 0.3-7 1.4-2 0.1-4-0.7-8.9-2.6-4.9-2-3.1-2-2-2.4-1.2-2.6-0.8-4zM146.5 405.4l0.1-2 0.7-2 1.4-2 2.3-2 2.1-1.2 3-1.2 6-1.2 5 0.1 4 0.8 3 1.3 5 3.1 1 0 3-2.6 1-0.5 2-0.5 0.9 0.1 2 0.8 1.3 1 1.2 2 0.5 2-0.1 1-0.9 2-1 1-2 1.1-1.9 0.2-4-0.5-1 0.6-3 4.1-3 2.3-4 1.8-5 1-4 0-3-0.3-4-1.1-2.6-1.2-2.4-1.6-2-2.1-1.2-2.3z"/>
<path fill="#59ffa6" d="M140.7 360.5l1.2-3 2.3-2.6 3.2-2.3 4.2-2 3.5-1.2 6-1.1 5-0.4 5 0.1 4.5 0.6 4.5 1 5 1.9 3.5 2.1 2.4 2 2.2 2.9 0.8 3 0.1 3-0.9 4-1.2 2.4-2.3 2.6-3.6 2.4-2 0.9-2 0.4-9 0.3-7 1.5-3 0.2-3-0.5-4.1-1.2-4.6-2-0.5-1 3.2-1.7 1.1-1.3-0.1-1-1-1-3-0.6-3 0.5-2.9 1.1-1-0.1-1-0.6-1-1-1.2-2.3-0.5-3zM147.9 402.4l1.1-2 1.9-2 4.2-2.4 3-1 3-0.5 3-0.2 3 0.2 5 1.4 2 1 2.2 1.5 1 1 1.2 2 0.8 3 0.1 2-0.7 2-1.4 2-2.2 1.9-2 1.1-3 1.1-3 0.6-3 0.3-3-0.1-4-0.8-3-1.1-2-1.1-2-1.6-1.7-2.3-0.7-2-0.2-2z"/>
<path fill="#73ff8c" d="M142.3 362.5l0.9-2.9 1.2-2.1 2.7-2.6 3.7-2.3 4.3-1.8 4.9-1.2 5.1-0.7 5 0 5 0.5 4.8 1.2 4.2 1.6 2.9 1.6 3 2.5 1.9 2.2 1.1 3 0.2 3-0.8 4-1.4 2.5-2.4 2.5-3.5 2.2-3 0.9-8 0.3-9 1.6-2 0.1-4-0.7-3.9-1.4-1.2-1 0.3-1 1.8-1.6 0.7-1.4-0.1-1-0.6-1-1.4-1-2.6-0.7-5.9 0.4-2-0.4-1-0.9-0.7-1.4zM148.8 403.4l0.8-2 1.5-2 2-1.6 2-1.1 5-1.5 3-0.3 3 0.2 2.5 0.4 2.5 0.7 2.4 1.2 1.6 1.2 1 1 1 1.8 0.8 3 0.2 2-0.6 2-0.7 1-1.7 1.8-2 1.3-2.1 0.9-3.9 1-3 0.3-3-0.2-5-1.1-2.1-1-2.8-2-2.1-3-0.5-2z"/>
<path fill="#8cff73" d="M144.3 362.5l1.2-3 1.5-2 3.1-2.6 3-1.7 4-1.6 4-1 4-0.6 5-0.1 5 0.5 4 1 4 1.5 3 1.7 2.9 2.3 2 2.6 1 2.7 0.2 2.3-0.4 3-1.5 3-2.3 2.5-2.9 2-3 0.9-8 0.5-8 1.4-3 0.3-4-0.8-2-0.8-1.1-1 0.3-1 1.4-2 0.3-1-0.1-1-0.5-1-1-1-1.3-0.7-2-0.7-6-0.3-1.3-0.3-1.1-1-0.4-1zM150.1 403.4l1.5-3 2.2-2 1.7-1 2.4-0.9 3.2-0.7 5 0 3 0.6 2 0.7 2.3 1.3 1.9 2 0.9 2 0.4 2 0 2-0.5 1.7-1 1.4-2 1.7-2 1-4 1.2-3 0.3-3-0.1-4.6-1.2-3.5-2-1.8-2-0.6-1-0.6-2z"/>
<path fill="#a6ff59" d="M146.2 362.5l0.9-2.4 2.1-2.6 2.5-1.9 3.4-1.9 4-1.5 4-0.9 4-0.4 4 0.1 4 0.4 4 1 3 1.2 3.4 2 2.5 2.1 2 2.7 0.8 2.1 0.2 3-0.7 3-1.2 2-2.1 2.3-2.9 1.9-3 0.8-6 0.4-9 1.4-3 0.2-4-1-1.2-1 0.1-1 1-3-0.5-2-0.8-1-1.6-1.1-2-0.8-6.4-1.1-1.3-1zM152.0 403.4l0.8-2 0.7-1 2.6-2.1 1.9-0.9 2.1-0.5 3-0.4 2 0 4.1 0.9 2.1 1 1.3 1 1.5 1.9 0.5 1.1 0.3 3-0.6 2-0.7 1-2.5 2.1-4 1.5-3 0.3-2 0-4-0.9-3.6-2-1.4-1.5-0.8-1.5-0.3-1z"/>
<path fill="#bfff40" d="M148.7 361.5l1-2 1.9-2 2.9-1.9 4.6-2.1 5-1.2 4-0.4 4 0.2 3.4 0.5 3.6 1 2.3 1 3.3 2 2.2 1.9 1.5 2 0.8 2 0.3 3-0.5 2.4-1.3 2.6-1.9 2-2.7 1.7-2 0.6-14 1.9-4 0.1-1.5-0.3-1.8-1-0.3-1 0.4-2 0-2-1.1-2-1.7-1.4-2-1.2-5.1-1.4-1.3-1-0.2-1zM154.9 402.4l1.4-2 2.8-1.7 3-0.7 3 0 3 0.7 2.7 1.7 1.4 2 0.3 2-0.4 1.7-0.9 1.3-2.1 1.6-3 1.1-4 0.2-3.3-0.9-1.7-0.9-1.1-1.1-1.2-2-0.2-1z"/>
<path fill="#d9ff26" d="M153.1 360.5l1.5-2 1.1-1 3.2-1.9 2.4-1 5.8-1.3 3-0.1 4 0.3 3.9 1.1 2.3 1 1.8 1 2.3 1.9 1.6 2 1 2 0.4 2 0 2-0.5 2-1.1 2-1.9 2-1.6 1-2.2 0.7-10 1.7-3 0.3-3 0-2.2-0.7-0.8-0.9-0.2-4.1-0.8-1.8-2-2-4.3-3.2-0.8-1-0.2-1z"/>
<path fill="#f2ff0d" d="M157.4 361.5l1.2-2 1.5-1.4 2.5-1.5 2.5-1 5-0.8 5 0.6 3 1.1 1.9 1 3.1 2.9 1.5 3.1 0.3 2-0.1 2-0.7 2-1.4 2-1.2 1-2.2 1-9.2 2.1-3 0.2-2.7-0.3-1.7-1-0.5-1-0.3-3-0.5-2-1.3-1.7-2.3-2.3-0.5-1z"/>
<path fill="#fff200" d="M161.9 361.5l2.1-2 3.1-1.2 4-0.5 4 0.7 2.1 1 1.3 1 1.6 1.7 0.7 1.3 0.7 3-0.4 3-1.3 2-1.2 1-1.9 1-2.8 1-4.8 0.9-2 0-2-0.5-1-0.5-0.7-0.9-0.3-1-0.3-4-1.4-5z"/>
<path fill="#ffd900" d="M164.8 366.5l1.3-1.7 2-1 2-0.4 3 0.3 2 1 1.8 1.8 0.9 2 0.1 2-0.4 1-0.8 1-1.5 1-2.1 0.8-4 0.7-3-0.4-1.5-1.1-0.5-1 0-3z"/>
<path fill="#ffbf00" d="M165.0 370.5l0.7-2 1.4-1.7 2-0.9 2-0.2 2 0.5 1.8 1.3 0.7 1 0.6 2-0.2 1-0.6 1-1.3 1-3 1-2 0.2-2-0.3-1.5-0.9-0.6-1z"/>
<path fill="#ffa600" d="M165.7 371.5l0.4-1.4 1-1.3 1-0.7 2-0.5 2 0.3 1 0.4 1 0.8 0.8 1.4 0 1-0.5 1-1.4 1-2.9 0.8-2-0.1-1.5-0.7-0.7-1z"/>
<path fill="#ff8c00" d="M166.6 371.5l0.3-1 1-1 2.2-0.7 1 0.1 1.6 0.6 1 1 0.2 1-0.5 1-1.3 0.9-2 0.5-2.4-0.4-1-1z"/>
<path fill="#ff7300" d="M167.5 371.5l0.6-1 2-0.7 2 0.5 0.7 1.2-0.4 1-2.3 1-1-0.1-1.5-0.9z"/>
<path fill="#ff5900" d="M168.6 371.5l0.5-0.4 1-0.4 1 0.3 0.5 0.5-0.3 1-1.2 0.4-1.3-0.4z"/>
</g>
<path fill="none" stroke="#000" stroke-opacity="0.35" stroke-width="0.45" d="M134.0 387.5l1 2 2.2 1.6 3 0.9 3 0.1 3.6-0.6 2.5-1 3.1-2 0.8-1 0.3-1-0.1-1-0.6-1-1.4-1-3.3-1.1-4.9-0.4-3.9 0.5-2.6 1-1.5 1-0.8 1zM196.0 382.2l-2 1.1-1 1.2-1 2.4-0.1 2.6 0.9 2 2.2 2.3 2 1.3 1 0.1 1.7-0.7 1.3-1.7 0.8-2.3 0-3-0.8-2.6-1-1.5-2-1.2zM131.2 365.7l-1 2.6-0.3 3.2 0.3 2.7 1.4 4.3 0.1 1-2.1 5-0.2 2 0.6 2 1.6 2 1.6 1.2 3 1.5 3 0.8 4 0.2 3-0.4 5.3-1.3 5.6-1.9 2.1-1.1 0.8-1 0.2-1-0.2-2-0.9-2.2-0.7-0.8-1.5-1-2.8-1-6-1.1-4.9-0.2-6 0.4-2-0.5-0.7-0.6-0.1-1 0.7-6-0.9-4.7-1-1.5-1-0.4zM200.0 377.6l-2 0.2-3 1.2-2 1.2-1 0.9-1 1.5-0.8 1.9-0.9 4 0.2 2 1.3 2 5.2 5.3 2 0.7 2-0.5 2-1.7 1.6-2.8 0.8-3 0-3-0.9-4-1.5-3.4-1-1.6zM151.5 416.4l-0.4-0.1-1-0.5-0.6-0.4-0.4-0.2-1-0.6-0.2-0.2-0.8-0.6-0.5-0.4-0.4-0.4-0.7-0.6-0.3-0.4-0.5-0.6-0.5-0.7-0.3-0.3-0.6-1-0.1-0.4-0.3-0.6-0.4-1-0.2-1-0.1-1 0.1-1 0.1-1 0.2-1 0.4-1 0.2-0.3 0.3-0.7 0.7-0.9 0-0.1 1-0.9 0-0.1 1-0.7 0.2-0.3 0.7-0.4 1-0.5 0-0.1 1-0.5 1-0.4 0 0 1-0.5 1-0.3 0.6-0.2 0.4-0.2 1-0.3 1-0.4 0.7-0.1 0.3-0.1 1-0.3 1-0.3 1-0.2 0.7-0.1 0.3-0.1 1-0.3 1-0.2 1-0.2 0.8-0.2 0.2-0.2 1-0.7 0.1-0.1-0.1-1 0-0.1-0.3-0.9-0.4-1-0.3-0.8-0.1-0.2-0.3-1-0.2-1-0.3-1-0.1-0.2-0.3-0.8-0.7-0.7-0.3-0.3-0.7-0.4-1-0.5-0.2-0.1-0.8-0.3-1-0.3-1-0.3-0.3-0.1-0.7-0.2-1-0.3-1-0.2-1-0.3-0.1 0-0.9-0.2-1-0.2-1-0.3-1-0.2-0.7-0.1-0.3-0.1-1-0.2-0.9-0.2-1-0.2-1-0.3-0.2 0-0.8-0.3-1-0.3-0.9-0.4-0.1-0.1-1-0.8-0.1-0.1-0.7-1-0.2-0.3-0.3-0.7-0.3-1-0.3-1-0.1-0.3-0.2-0.7-0.2-1-0.2-1-0.2-1-0.2-1 0 0-0.2-1-0.2-1-0.2-1-0.2-1-0.2-1 0 0-0.2-1 0-1 0-1 0.1-0.9 0.1-0.3 0.2-0.7 0.4-1 0.4-0.7 0.2-0.3 0.8-0.9 0.1-0.1 0.9-0.8 0.3-0.2 0.7-0.5 0.8-0.5 0.2-0.1 1-0.5 0.9-0.4 0.1-0.1 1-0.4 1-0.4 0.4-0.1 0.6-0.2 0.9-0.4 1-0.3 0.6-0.1 0.4-0.2 1-0.3 1-0.3 1-0.2 0.2 0 0.8-0.3 1-0.2 1-0.2 1-0.2 1-0.1 0 0 1-0.2 1-0.2 1-0.1 1-0.1 1-0.1 1 0 1-0.1 1 0 1 0 1 0 1 0 1 0 1 0 1 0.1 1 0.1 1 0.1 1 0.1 1 0.1 1 0.2 0.3 0.1 0.7 0.1 1 0.2 1 0.2 1 0.2 1 0.3 0 0 1 0.2 1 0.2 1 0.3 0.6 0.3 0.4 0.1 1 0.3 0.9 0.3 0.8 0.3 0.2 0.1 1 0.3 1 0.4 0.3 0.2 0.7 0.3 1 0.5 0.4 0.2 0.6 0.3 0.9 0.7 0.1 0 1 0.8 0.2 0.2 0.8 0.9 0.1 0.1 0.6 1 0.3 0.6 0.2 0.4 0.3 1 0.2 0.9 0 1 0 1-0.2 1-0.1 1-0.2 1-0.2 0.7 0 0.3-0.2 1-0.2 1-0.3 1-0.2 1-0.1 0.5-0.1 0.5-0.2 1-0.3 1-0.3 1-0.1 0.2-0.3 0.8-0.5 1-0.2 0.3-0.6 0.7-0.4 0.4-0.6 0.6-0.4 0.3-0.9 0.7-0.1 0.1-1 0.8-0.2 0.1-0.8 0.7-0.3 0.3-0.7 0.8-0.1 0.2-0.4 1-0.1 1-0.1 1-0.1 1-0.1 1-0.1 0.3-0.1 0.7-0.3 1-0.4 1-0.1 0.6-0.2 0.4-0.4 1-0.1 1 0.7 0.6 0.3 0.4 0.6 0.3 0.9 0.7 0.1 0 1 0.7 0.3 0.3 0.7 0.5 0.5 0.5 0.5 0.4 0.6 0.6 0.4 0.4 0.5 0.6 0.5 0.6 0.3 0.3 0.7 1 0 0.1 0.6 0.9 0.4 0.9 0.1 0.1 0.4 1 0.3 1 0 1-0.1 1-0.3 1-0.4 0.7-0.1 0.3-0.7 1-0.2 0.2-0.7 0.8-0.3 0.2-1 0.8 0 0-1 0.6-1 0.4 0 0-1 0.4-1 0.2-1 0.2-0.9 0.1-1 0.1-0.2 0-0.8 0.2-1 0.3-1 0.5 0 0-1 0.8-0.4 0.2-0.6 0.5-0.8 0.5-0.2 0.2-1 0.6-0.4 0.2-0.6 0.4-1 0.4-0.4 0.2M140.7 360.5l1.2-3 2.3-2.6 3.2-2.3 4.2-2 3.5-1.2 6-1.1 5-0.4 5 0.1 4.5 0.6 4.5 1 5 1.9 3.5 2.1 2.4 2 2.2 2.9 0.8 3 0.1 3-0.9 4-1.2 2.4-2.3 2.6-3.6 2.4-2 0.9-2 0.4-9 0.3-7 1.5-3 0.2-3-0.5-4.1-1.2-4.6-2-0.5-1 3.2-1.7 1.1-1.3-0.1-1-1-1-3-0.6-3 0.5-2.9 1.1-1-0.1-1-0.6-1-1-1.2-2.3-0.5-3zM147.9 402.4l1.1-2 1.9-2 4.2-2.4 3-1 3-0.5 3-0.2 3 0.2 5 1.4 2 1 2.2 1.5 1 1 1.2 2 0.8 3 0.1 2-0.7 2-1.4 2-2.2 1.9-2 1.1-3 1.1-3 0.6-3 0.3-3-0.1-4-0.8-3-1.1-2-1.1-2-1.6-1.7-2.3-0.7-2-0.2-2zM148.7 361.5l1-2 1.9-2 2.9-1.9 4.6-2.1 5-1.2 4-0.4 4 0.2 3.4 0.5 3.6 1 2.3 1 3.3 2 2.2 1.9 1.5 2 0.8 2 0.3 3-0.5 2.4-1.3 2.6-1.9 2-2.7 1.7-2 0.6-14 1.9-4 0.1-1.5-0.3-1.8-1-0.3-1 0.4-2 0-2-1.1-2-1.7-1.4-2-1.2-5.1-1.4-1.3-1-0.2-1zM154.9 402.4l1.4-2 2.8-1.7 3-0.7 3 0 3 0.7 2.7 1.7 1.4 2 0.3 2-0.4 1.7-0.9 1.3-2.1 1.6-3 1.1-4 0.2-3.3-0.9-1.7-0.9-1.1-1.1-1.2-2-0.2-1zM164.8 366.5l1.3-1.7 2-1 2-0.4 3 0.3 2 1 1.8 1.8 0.9 2 0.1 2-0.4 1-0.8 1-1.5 1-2.1 0.8-4 0.7-3-0.4-1.5-1.1-0.5-1 0-3zM167.5 371.5l0.6-1 2-0.7 2 0.5 0.7 1.2-0.4 1-2.3 1-1-0.1-1.5-0.9z"/>
</g>
<g fill="none" stroke="#111" stroke-width="0.9">
<circle cx="166.6" cy="377.0" r="23.5"/>
<path d="M163.00 353.80 L166.60 350.30 L170.20 353.80"/>
<rect x="140.80" y="371.00" width="2.9" height="12.8" rx="1.2"/>
<rect x="189.50" y="371.00" width="2.9" height="12.8" rx="1.2"/>
</g>
<g fill="#111"><circle cx="161.30" cy="400.50" r="1.05"/><circle cx="171.90" cy="400.50" r="1.05"/><circle cx="158.50" cy="402.20" r="1.05"/><circle cx="174.70" cy="402.20" r="1.05"/><circle cx="164.00" cy="403.50" r="1.05"/><circle cx="169.20" cy="403.50" r="1.05"/><circle cx="160.60" cy="404.70" r="1.05"/><circle cx="172.60" cy="404.70" r="1.05"/><circle cx="157.50" cy="407.00" r="1.05"/><circle cx="175.70" cy="407.00" r="1.05"/><circle cx="163.30" cy="408.00" r="1.05"/><circle cx="169.90" cy="408.00" r="1.05"/></g>
<clipPath id="ct3"><circle cx="272.4" cy="377.0" r="37.4"/></clipPath>
<g clip-path="url(#ct3)"><g filter="url(#bl)">
<rect x="231.99999999999997" y="336.6" width="80.8" height="80.8" fill="#00bfff"/>
<path fill="#00d9ff" d="M233.0 337.6l78.8 0 0 78.8-78.8 0zM252.9 385.5l-0.1 1 0.7 1 1.7 1 2.7 0.5 3-0.1 2.7-0.4 1.6-1 0.1-1-0.6-1-1.6-1-3.2-0.6-5 0.3-1 0.3z"/>
<path fill="#00f2ff" d="M233.0 337.6l78.8 0 0 78.8-78.8 0zM249.0 385.5l0 1 0.4 1 0.9 1 2.6 1.4 3 0.7 5-0.1 4-0.6 1.3-0.4 1.7-1 0.5-1-0.3-1-2.1-2-2.3-1-2.8-0.5-7-0.2-1.9 0.3-2 1z"/>
<path fill="#0dfff2" d="M233.0 337.6l78.8 0 0 78.8-78.8 0zM243.2 386.5l0.5 2 0.8 1 1.5 1.1 3 1.4 3.9 0.9 3-0.1 11-1.8 3-1.3 1-1.2-0.1-1-0.6-1-2.3-2-2-1-4-1-9.9-0.8-3 0.2-2.1 0.6-1.8 1-1 1z"/>
<path fill="#26ffd9" d="M233.0 337.6l78.8 0 0 78.8-78.8 0 0-20.8 5.3 2.8 2.7 0.7 3 0.1 7.1-1.8 8.8-3 13.5-1.9 2.8-1 0.2-1-1.8-2-3.7-3-3.3-2-1.7-0.7-3-0.7-6-0.5-7.9-1.3-2 0.1-2 0.4-3.7 1.7-4.2 3-4.1 3.5z"/>
<path fill="#40ffbf" d="M239.4 358.5l1.2-1.9 1.7-2 2.2-2 2.5-1.8 5-2.5 6.9-2.3 7-1.2 8-0.3 8 0.7 8 1.9 4.9 2.1 4 2.3 3.7 3.1 2.3 2.9 1.4 3 0.5 3-0.2 3-1.4 5-0.1 2 0.9 2 4.3 4 0.1 1-2.8 3-2.7 6.4-1 1.6-2 1.7-2 0.4-2-1.1-3.7-5-1.3-0.6-7.9 1-6-0.2-4-1.1-5.8-3.1-3.2-1.3-3.7-0.7-6.3-0.5-7.9-2.1-3 0-5 1.8-3 0.3-1.4-0.5-0.2-1 1.5-1 5.1-1.9 0.6-1.1-0.3-1-2.8-5-1-3-0.2-4zM238.5 407.4l0.7-2 0.7-1 2.1-1.8 2.3-1.2 6.7-2.4 6.9-2.2 4-0.8 5-0.4 7-0.2 10 0.7 5 0.8 8.9 2.1 3 1.6 3.3 2.8 1.9 3 0.3 2-0.6 2-1.5 2-3.4 2.5-3.1 1.5-50.8 0-2.9-1.5-3.4-2.5-0.9-1-1-2z"/>
<path fill="#59ffa6" d="M241.9 358.5l2.2-2.9 3.5-3 4.4-2.5 3.9-1.6 5-1.4 6-0.9 6-0.3 6 0.4 6 1 5 1.5 3.9 1.7 4 2.5 2.9 2.6 2.2 2.9 1.4 4 0 3-0.6 2-0.9 1.5-5 4.1-2.1 2.4-1.1 2-1.7 5-1.3 2-1.7 1.1-3 0.8-3 0.3-4-0.1-5-1.1-6-2.8-3-1-3-0.6-6-0.5-2-0.4-4.5-1.7-3.4-1.9-4.3-5.1-1.8-4-0.4-2 0-3 0.5-2zM241.4 408.4l0.3-2 0.5-1 1.8-1.8 3-1.9 4-1.6 5.9-2 5-1 5-0.5 6-0.1 6 0.2 5 0.6 5 0.9 5.9 1.8 4 1.9 2.1 1.5 1.7 2 0.7 2 0 1-0.7 2-1.8 2.1-3 2.1-4.1 1.8-42.9 0-3.8-1.7-3.3-2.3-1.6-2z"/>
<path fill="#73ff8c" d="M243.4 359.5l2.1-2.9 3.4-3 3.3-2 4.7-2 4-1.1 5-0.9 6-0.4 5 0.2 6 0.9 4.9 1.3 4.8 2 3.2 1.9 3 2.5 2.1 2.5 1.4 3 0.4 3-0.4 2-0.6 1-4.9 4.9-3 4.1-1.1 2-1.1 3-1.3 2-1.4 1-3 0.9-3 0.3-3-0.1-5-1.1-6-2.5-3-0.9-3-0.5-6-0.5-2-0.4-2.8-1.2-3.3-2-1.8-1.6-2.1-2.4-1.3-2-0.9-2-0.5-2-0.1-3 0.4-2zM243.5 408.4l0.3-2 1.4-2 2.7-2 4.1-1.8 4.9-1.7 4-0.8 6-0.7 5-0.2 6 0.2 6 0.7 5 1 4.9 1.7 3.4 1.6 2.5 2 1.3 2 0.3 2-0.7 2-1.8 2-3.1 2-4.8 2-37.4 0-4.5-1.9-3-2-1.9-2.1z"/>
<path fill="#8cff73" d="M244.7 360.5l2.1-3 2.2-1.9 3-2 3.9-1.9 5-1.6 5-0.9 5-0.4 5 0.1 5 0.6 5 1.1 4 1.5 3.9 2 3.3 2.5 2.6 2.9 1.3 3 0.2 2-0.5 2-0.6 1-4.3 4.9-3.6 5.1-2.3 3.9-1 1-1.5 1.1-2.5 0.8-4 0.3-5.9-1.1-7.1-2.6-2-0.5-10-1-2.4-0.9-2.5-1.5-4.1-3.5-1.5-2-1.1-2-0.6-2-0.2-3 0.4-2zM245.2 408.4l0.3-2 1.5-2 2.8-2 3.1-1.4 4-1.3 4-0.9 5-0.7 6-0.3 6 0.2 5 0.6 5 1.1 4 1.3 3.2 1.4 2.7 2 1.4 2 0.3 2-0.7 2-2 2-3.2 2-5.2 2-32.5 0-4.9-1.9-3-1.9-2.1-2.2z"/>
<path fill="#a6ff59" d="M245.4 362.5l1.6-2.7 2.1-2.3 2.9-2.1 3.9-2 4-1.4 4-0.9 5-0.6 5-0.2 6 0.6 4 0.8 4 1.2 4 1.8 2.9 1.9 3 2.9 1.7 3 0.3 2-0.5 2-7.4 10.3-3 3-3 1.2-9 1.1-4-0.6-6-1.7-11-1.1-2-0.7-1.9-1.1-4-3.4-2.1-3-0.8-2-0.4-2 0.1-2zM246.8 408.4l0.4-2 1.5-2 3-2 2.2-1 3-1 5-1.2 5-0.6 5-0.2 5 0.2 5 0.5 5 1.1 3.9 1.2 2.2 1 2.9 2 1.6 2 0.3 2-0.8 2-2.2 2.2-3.2 1.8-5.6 2-27.9 0-5.2-1.9-2.9-1.7-2.5-2.4z"/>
<path fill="#bfff40" d="M246.2 364.5l1.3-3 1.5-2 3-2.5 2.9-1.8 5-1.9 4-1 4-0.6 5-0.2 5 0.3 4 0.6 4 1.1 4 1.6 3.9 2.3 2.5 2.1 1.9 3 0.4 2-0.4 2-1.2 2-4.8 7-2.3 2.2-2 1-2 0.5-9 0.5-19-1.5-4-0.9-1.9-1.2-1.9-1.6-2.5-3-1-2-0.5-2zM248.5 408.4l0.4-2 1.7-2 3.1-2 2.2-0.9 3.5-1.1 4.5-0.8 8-0.6 8 0.5 5 0.9 3.4 1 2.6 1.1 3 1.9 1.7 2 0.4 2-0.8 2-0.9 1-2.7 2-4.6 2-3.5 1-23.2 0-3.4-1-4.3-2-2.6-2-1-1.5z"/>
<path fill="#d9ff26" d="M247.7 364.5l1.3-2.7 1.8-2.3 2.5-2 3.6-1.9 3-1.2 4-1.1 5-0.7 4-0.1 4 0.2 5 0.8 4 1.1 4 1.6 2.9 1.8 2.8 2.5 1.3 2 0.5 2-0.3 2-1 2-3.8 6-2.4 2.3-2 1-2 0.4-10 0.6-7-0.4-12-1.3-3-0.7-2.9-2.2-1.6-1.7-1.2-2-0.8-3zM250.4 408.4l0.5-2 0.7-1 2.3-1.9 2.2-1.1 2.7-1 4.1-1 5-0.6 4-0.2 5 0.3 4.3 0.5 4.1 1 2.7 1 2 1 2.6 2 0.7 1 0.5 2-0.8 2-0.8 1-2.7 2-4.8 2-3.9 1-18 0-6.4-2-3.5-2-1.9-2z"/>
<path fill="#f2ff0d" d="M249.1 365.5l0.7-2 1.2-2 2-2 2.9-2 4-1.9 3.5-1 4.5-0.9 4-0.2 4 0.1 5 0.7 4 1 3.2 1.3 3.6 1.9 2.1 1.8 1.8 2.2 0.7 2-0.2 2-1.4 3-2.8 4.7-2 1.9-2 0.9-3 0.6-8 0.6-5-0.1-7-0.8-5-1.2-4.6-0.6-1.4-0.4-1.9-1.3-2-2.6-1-2.7zM252.5 408.4l0.4-1.7 1-1.3 2.8-2 2.2-1 6-1.5 7-0.5 7 0.5 6 1.6 2.1 0.9 2.8 2 0.8 1 0.6 2-0.6 2-0.7 1-2.7 2-5 2-5 1-11 0-5.3-1.1-2.6-0.9-3.5-2-1.8-2z"/>
<path fill="#fff200" d="M250.8 367.5l0.7-3 1.1-2 1.9-2 2.4-1.7 3-1.6 4-1.4 3-0.7 4-0.4 5 0.1 4 0.5 4 0.9 4 1.5 3.3 1.8 2.3 2 1.3 2 0.4 2-0.4 2-2 4-1.3 2-1.6 1.8-2 1-2 0.5-8 0.9-4 0-4-0.3-5-0.8-2-0.6-1-0.5-3-3.2-1-0.6-1-0.2-3 0.6-1-0.3-1.2-1.3-0.7-1.9zM254.6 408.4l0.8-2 0.9-1 3.2-2 5.4-1.6 7-0.6 6 0.6 3 0.6 2.8 1 3.2 2 1 1.2 0.7 1.8-0.4 2-0.7 1-2.6 2-2.2 1-3.5 1-7.3 0.8-7-0.6-5-1.5-3-1.6-1.2-1.1-0.7-1z"/>
<path fill="#ffd900" d="M253.5 365.5l0.9-2 1.8-2 1.7-1.4 3-1.7 3-1.3 3-0.7 6-0.6 4 0.3 4 0.6 6.1 1.8 2.9 1.6 2 1.5 1.4 1.9 0.7 2-0.3 2-1.7 4-1.4 2-1.7 1.5-2 0.9-3 0.7-4 0.5-5 0.2-6-0.5-5.2-1.3-1.2-1-1.6-3-1.8-2-1.2-0.6-3-0.5-1-0.5-0.5-1.4zM256.8 408.4l1-2 1.1-1 4-2 4.7-1 5.3-0.2 5 0.7 4.5 1.5 2.7 2 0.8 1.3 0.2 1.7-1 2-1.2 1-3 1.5-2 0.7-4 0.7-5 0.1-6-0.9-3.1-1.1-2.9-2-1-1.8z"/>
<path fill="#ffbf00" d="M256.5 364.5l0.4-1 1.8-2 2.8-2 2-1 4.4-1.3 6-0.3 4 0.4 4 0.8 3 0.9 3 1.4 2 1.3 1.7 1.8 0.5 1 0.4 2-0.6 3-1 2-1.5 2-1.5 1.1-2 0.9-4 1-5 0.5-4 0-6-1.1-3-1.4-3-5.2-1-1.1-2.6-1.7-0.8-1zM259.7 408.4l0.4-1 0.8-1 3-1.6 4-1 4-0.3 5 0.6 3.5 1.3 1.5 1 0.9 1 0.4 1 0 1-0.4 1-0.8 1-1.4 1-2.4 1-4.3 0.8-3 0.2-6-0.9-2.6-1.1-1.4-1-0.9-1-0.3-1z"/>
<path fill="#ffa600" d="M259.6 363.5l0.6-1 2.2-2 4.2-2 4.3-0.7 5 0.3 6 1.4 2.5 1 3.4 2 1.1 1 1.2 2 0.3 1-0.1 2-0.7 2-1.1 2-2.3 2-2.2 1-3.1 0.7-4 0.4-6-0.2-4-1.1-1.6-0.8-0.9-1-2.5-4.9-2.2-3.1-0.3-1z"/>
<path fill="#ff8c00" d="M262.2 363.5l1.4-2 1.2-1 3.1-1.3 4-0.4 5 0.8 4.3 1.9 3.5 3 1.9 3 0.4 2-0.1 2-1.1 2-1.3 1-2.6 1.1-7 0.8-3-0.2-3.2-0.7-2.1-1-1.1-1-0.6-1-2.5-6-0.4-2z"/>
<path fill="#ff7300" d="M264.2 363.5l1.5-2 1.6-1 1.6-0.5 4-0.2 4 1.1 2 1.1 2 1.5 2.7 3 1.3 3 0.2 2-0.2 1-0.6 1-1.3 1-4.1 1.2-3 0.4-3-0.1-4-0.9-2.3-1.6-1.2-2-1.5-5 0-2z"/>
<path fill="#ff5900" d="M265.8 363.5l0.8-1 1.3-0.9 2-0.7 3 0 4 1.2 3 2 2.2 2.4 1.5 3 0.2 2-0.2 1-0.7 1-1.4 1-3.6 1-5 0.2-2-0.3-2-0.8-1.4-1.1-0.7-1-1.1-3-0.5-3 0.2-2z"/>
<path fill="#ff4000" d="M267.0 364.5l0.7-1 1.2-0.9 2-0.5 3 0.1 3 1.2 2.9 2.1 1.6 2 1.2 3-0.3 2-0.7 1-1.7 1-3 0.8-4 0.1-3.3-0.9-1.3-1-0.7-1-0.6-2-0.5-4z"/>
<path fill="#ff2600" d="M268.8 365.5l1.1-1.1 2-0.6 2 0.1 3 1.2 2 1.5 1.5 1.9 0.8 2-0.2 2-1.1 1.2-1.6 0.8-1.4 0.4-3 0.2-3.3-0.6-1.5-1-1-2-0.1-3z"/>
<path fill="#ff0d00" d="M269.5 369.5l1.4-1.6 1-0.4 2-0.3 2 0.3 2 1 1 1 0.8 2-0.2 1-0.8 1-2.2 1-2.6 0.3-2.1-0.3-1.8-1-0.7-1-0.3-1z"/>
<path fill="#f20000" d="M270.1 371.5l0.8-1.4 1-0.6 1-0.3 2-0.1 1.2 0.4 1.5 1 0.6 1-0.1 1-0.8 1-1.4 0.5-3 0.2-1.9-0.7-0.8-1z"/>
<path fill="#d90000" d="M271.6 371.5l1.3-1 2 0 1.5 1 0.1 1-1.2 1-2.4 0.1-1.4-1.1z"/>
</g>
<path fill="none" stroke="#000" stroke-opacity="0.35" stroke-width="0.45" d="M249.0 385.5l0 1 0.4 1 0.9 1 2.6 1.4 3 0.7 5-0.1 4-0.6 1.3-0.4 1.7-1 0.5-1-0.3-1-2.1-2-2.3-1-2.8-0.5-7-0.2-1.9 0.3-2 1zM250.8 416.4l-0.8-0.3-1-0.4-0.6-0.3-0.4-0.2-1-0.5-0.5-0.3-0.5-0.3-1-0.7 0 0-1-0.8-0.3-0.2-0.7-0.8-0.2-0.2-0.7-1-0.1-0.3-0.4-0.7-0.2-1 0.1-1 0.2-1 0.3-0.4 0.2-0.6 0.8-0.9 0-0.1 1-0.8 0.1-0.2 0.9-0.6 0.6-0.4 0.4-0.1 1-0.6 0.6-0.3 0.4-0.1 1-0.5 1-0.3 0-0.1 1-0.3 1-0.4 0.7-0.3 0.2 0 1-0.4 1-0.3 1-0.3 0 0 1-0.3 1-0.2 1-0.2 1-0.2 0.2-0.1 0.8-0.1 1-0.2 1-0.1 1-0.1 1-0.1 1-0.1 1-0.1 1 0 1-0.1 1 0 1 0 1 0 1 0 1 0 1 0 1 0 1 0.1 1 0 1 0.1 1 0.1 1 0.1 1 0.1 1 0.1 1 0.2 0.9 0.1 0.1 0.1 1 0.1 1 0.2 1 0.2 1 0.2 0.8 0.2 0.2 0.1 1 0.2 1 0.3 0.9 0.3 0.4 0.1 0.6 0.2 1 0.4 1 0.4 0.1 0 0.9 0.4 1 0.5 0.2 0.1 0.8 0.5 0.8 0.5 0.2 0.2 1 0.8 0.1 0 0.9 1 0 0 0.8 1 0.2 0.6 0.3 0.4 0.2 1 0 1-0.2 1-0.3 0.6-0.2 0.4-0.7 1-0.1 0.1-0.8 0.9-0.2 0.1-1 0.8-0.1 0.1-0.9 0.6-0.7 0.4-0.3 0.2-1 0.5-0.6 0.3-0.4 0.2-1 0.4-1 0.4-0.1 0M241.9 358.5l2.2-2.9 3.5-3 4.4-2.5 3.9-1.6 5-1.4 6-0.9 6-0.3 6 0.4 6 1 5 1.5 3.9 1.7 4 2.5 2.9 2.6 2.2 2.9 1.4 4 0 3-0.6 2-0.9 1.5-5 4.1-2.1 2.4-1.1 2-1.7 5-1.3 2-1.7 1.1-3 0.8-3 0.3-4-0.1-5-1.1-6-2.8-3-1-3-0.6-6-0.5-2-0.4-4.5-1.7-3.4-1.9-4.3-5.1-1.8-4-0.4-2 0-3 0.5-2zM260.3 416.4l-0.4-0.1-1-0.3-1-0.3-0.9-0.3-0.1 0-1-0.4-1-0.4-0.4-0.2-0.6-0.3-1-0.5-0.3-0.2-0.6-0.4-0.9-0.6-0.1-0.1-1-0.9 0-0.1-0.8-0.9-0.2-0.5-0.3-0.5-0.2-1 0.1-1 0.3-1 0.1 0 0.6-1 0.4-0.3 0.6-0.7 0.4-0.2 0.9-0.8 0.1 0 0.9-0.5 0.8-0.5 0.2-0.1 1-0.4 1-0.4 0.2-0.1 0.8-0.2 1-0.3 1-0.3 0.5-0.2 0.5-0.1 1-0.2 1-0.2 1-0.2 1-0.1 0.8-0.2 0.2 0 1-0.1 1-0.1 1-0.1 1 0 1-0.1 1 0 1 0 1 0 1 0 1 0.1 1 0 1 0.1 1 0.1 1 0.1 0.6 0 0.4 0.1 1 0.1 1 0.2 1 0.2 1 0.2 1 0.2 0 0 1 0.3 1 0.3 1 0.3 0.4 0.1 0.6 0.3 1 0.4 0.8 0.3 0.2 0.1 1 0.5 0.7 0.4 0.2 0.2 1 0.8 0.1 0 0.9 1 0.1 0 0.7 1 0.2 0.8 0.1 0.2 0.1 1-0.2 0.5-0.1 0.5-0.5 1-0.4 0.4-0.5 0.6-0.5 0.4-0.7 0.6-0.3 0.2-0.9 0.6-0.3 0.2-0.7 0.4-1 0.5-0.3 0.1-0.7 0.3-1 0.4-0.9 0.3-0.1 0-1 0.3-1 0.3-1 0.3-0.4 0.1M246.2 364.5l1.3-3 1.5-2 3-2.5 2.9-1.8 5-1.9 4-1 4-0.6 5-0.2 5 0.3 4 0.6 4 1.1 4 1.6 3.9 2.3 2.5 2.1 1.9 3 0.4 2-0.4 2-1.2 2-4.8 7-2.3 2.2-2 1-2 0.5-9 0.5-19-1.5-4-0.9-1.9-1.2-1.9-1.6-2.5-3-1-2-0.5-2zM253.5 365.5l0.9-2 1.8-2 1.7-1.4 3-1.7 3-1.3 3-0.7 6-0.6 4 0.3 4 0.6 6.1 1.8 2.9 1.6 2 1.5 1.4 1.9 0.7 2-0.3 2-1.7 4-1.4 2-1.7 1.5-2 0.9-3 0.7-4 0.5-5 0.2-6-0.5-5.2-1.3-1.2-1-1.6-3-1.8-2-1.2-0.6-3-0.5-1-0.5-0.5-1.4zM256.8 408.4l1-2 1.1-1 4-2 4.7-1 5.3-0.2 5 0.7 4.5 1.5 2.7 2 0.8 1.3 0.2 1.7-1 2-1.2 1-3 1.5-2 0.7-4 0.7-5 0.1-6-0.9-3.1-1.1-2.9-2-1-1.8zM264.2 363.5l1.5-2 1.6-1 1.6-0.5 4-0.2 4 1.1 2 1.1 2 1.5 2.7 3 1.3 3 0.2 2-0.2 1-0.6 1-1.3 1-4.1 1.2-3 0.4-3-0.1-4-0.9-2.3-1.6-1.2-2-1.5-5 0-2zM269.5 369.5l1.4-1.6 1-0.4 2-0.3 2 0.3 2 1 1 1 0.8 2-0.2 1-0.8 1-2.2 1-2.6 0.3-2.1-0.3-1.8-1-0.7-1-0.3-1z"/>
</g>
<g fill="none" stroke="#111" stroke-width="0.9">
<circle cx="272.4" cy="377.0" r="23.5"/>
<path d="M268.80 353.80 L272.40 350.30 L276.00 353.80"/>
<rect x="246.60" y="371.00" width="2.9" height="12.8" rx="1.2"/>
<rect x="295.30" y="371.00" width="2.9" height="12.8" rx="1.2"/>
</g>
<g fill="#111"><circle cx="267.10" cy="400.50" r="1.05"/><circle cx="277.70" cy="400.50" r="1.05"/><circle cx="264.30" cy="402.20" r="1.05"/><circle cx="280.50" cy="402.20" r="1.05"/><circle cx="269.80" cy="403.50" r="1.05"/><circle cx="275.00" cy="403.50" r="1.05"/><circle cx="266.40" cy="404.70" r="1.05"/><circle cx="278.40" cy="404.70" r="1.05"/><circle cx="263.30" cy="407.00" r="1.05"/><circle cx="281.50" cy="407.00" r="1.05"/><circle cx="269.10" cy="408.00" r="1.05"/><circle cx="275.70" cy="408.00" r="1.05"/></g>
<clipPath id="ct4"><circle cx="399.5" cy="375.6" r="38.0"/></clipPath>
<g clip-path="url(#ct4)"><g filter="url(#bl)">
<rect x="358.5" y="334.6" width="82.0" height="82.0" fill="#0000bf"/>
<path fill="#0000d9" d="M359.5 335.6l80 0 0 80-80 0zM404.7 386.6l0.1 1 0.7 0.4 1 0.2 1.5-0.6 0-1-1.5-0.7zM384.7 390.6l-0.2 1.1 0.5 1.9 1.5 1.5 2 0.7 2 0 2-0.7 1-0.8 1.1-1.7-0.1-2-0.5-1-1.1-1-2.4-0.8-2 0.1-2 0.6-1.2 1.1zM428.5 388.2l-1 0.3-0.5 1.1 0 1 0.5 0.8 1 0.3 1-0.8 0.3-1.3-0.4-1z"/>
<path fill="#0000f2" d="M359.5 335.6l80 0 0 80-80 0zM415.1 390.6l-0.9-2-3.2-3-1.9-1-3.6-0.3-2.2 0.3-5.8 2.6-5-0.7-3-0.1-2.1 0.2-3 1-1.6 1-0.9 1-0.6 2 0 2 1.2 4.3 1 1.5 1 0.9 2 1 2 0.5 3 0.4 3-0.1 3.1-0.5 10.9-3.3 3-1.3 2-1.6 1-1.3 0.6-1.5zM429.9 385.6l-1.4-0.3-2 0.6-1.9 1.7-1.4 2-0.9 2-0.2 2 0.5 1 1 1 1.9 0.7 2 0 2-0.7 2-2 0.9-3-0.1-2-0.8-1.7z"/>
<path fill="#000dff" d="M359.5 335.6l80 0 0 80-80 0zM433.3 387.6l-1.2-2-1.4-1-1.2-0.3-2 0.1-1 0.3-4 2.9-2 0.5-4-0.8-3-1.3-2.4-1.4-2.6-0.9-2-0.2-2 0.1-7 1.8-8 0.1-5.4 1.1-2.9 1-1.4 1-0.5 1-0.5 7-1 5 0.1 2 0.8 1 0.8 0.5 3.8 1.5 4.6 1 6.6 0.8 5 0.2 6-0.3 5.6-0.7 4.6-1 3.2-1 4.5-2 3.1-2 4-3.6 2-2.7 1-2.6 0.2-3.1z"/>
<path fill="#0026ff" d="M359.5 335.6l80 0 0 80-80 0zM397.1 353.6l2.4 0.3 2.8-0.3-2.8-0.4zM375.1 403.6l0.1 1 0.7 1 2.6 1.6 6 1.6 7 1.1 7 0.4 7-0.2 7-0.9 5-1 4-1.2 5-2.2 3.4-2.2 2.1-2 2-3 0.9-3 0.3-3-0.2-3-0.7-2-1.6-2-1.2-0.8-2-0.4-2.1 0.2-2.2 1-2.7 1.7-2 0.4-4-0.5-6.4-2.6-3.6-0.5-3 0.3-7 1.3-8 0.3-7.7 1.6-2.3 0.9-0.7 1.1-0.5 8z"/>
<path fill="#0040ff" d="M359.5 335.6l80 0 0 56.9-1.4-3.9-1.8-3-2.5-2-3.3-0.9-3 0.2-5 2.5-2 0.4-4-0.3-6-2.2-4-0.6-9 1.4-10 0.5-10.4 2-1 1-0.2 1 0.2 4-0.1 3-0.5 2.1-0.9 1.9-1.1 1.6-2 1.7-2 0.7-1-0.5-1.4-2.5-2.7-7-0.9-0.7-1-0.2-1 0.3-1.1 0.6-0.9 1.3zM386.6 353.6l0 1 1.9 0.8 15 0.7 3 0.7 2.4 1.8 1.6 0.7 2 0 1.3-0.7 0-1-1.3-3-0.8-1-1.8-1-3.7-1-6.7-0.5-7 0.4-4.6 1.1zM382.5 362.0l1 0.3 1-0.5 1.2-1.2 0.2-1-0.4-0.4-1-0.1-1.2 0.5-0.9 1zM359.5 399.1l1.5 2.5 2.5 2 2 0.9 3 0.3 1 0.5 3 2.8 4 2 4 1.2 5 0.9 7 0.7 6 0.3 7-0.2 8-0.8 6-1.1 6-1.7 5-2 4-2.3 3-2.5 2-2.9 0 15.9-80 0z"/>
<path fill="#0059ff" d="M359.5 346.1l0.8-1.5 1.6-2 3.6-2.6 5-2 9.9-2.4 39.3 0 7.8 1.5 5 1.7 4 2.2 1.8 1.6 1.2 1.5 0 36-2 1.1-2 0.6-6 0.2-2 0.3-5 2.3-2 0.5-4-0.3-7-2.1-4-0.3-9 1.3-9 0.4-7 1.1-7 0.2-1.3 0.2-4.7 2.5-2 0.3-2-0.5-2-1.6-2-3zM380.2 362.6l0.3 1 1 1.1 2 0.6 1-0.3 3.4-4.4 0.9-2 0.7-0.9 2-0.5 6-0.2 5 0.3 2 0.5 5 2.3 3 0.6 2-0.2 1.5-0.9 0.5-1 0-1-1-3-1-1-1.7-1-2.6-1-4-1-3.7-0.4-5-0.1-6 0.4-4.5 1.1-2 1-1.2 1-0.5 1 0.1 2-2.9 3.6-0.4 1.4z"/>
<path fill="#0073ff" d="M361.0 346.6l1.2-2 1.9-2 2.4-1.7 2-0.9 3-1 14.5-3.4 27.3 0 12.2 2.4 5 1.4 3 1.4 2.5 1.8 1.7 2 1.3 3 0.5 4.4 0 19.9-1.1 4.7-1.4 2-2.5 1.6-7 1.6-5 2.2-2 0.5-3-0.1-7-1.9-4-0.4-9 1.2-10 0.3-7 1-3-0.1-4-0.9-2 0-5 2.5-2 0.1-1-0.5-1.2-1.1-1.4-2-1.4-3 0-27.3zM378.2 362.6l0.7 2 0.9 1 2.1 1 2.6 0.2 1-0.2 1.4-1 0.6-2 1.3-2 1.7-2.1 1-0.8 1-0.4 4-0.3 5 0.2 2 0.5 7 2.6 4 0.5 2-0.4 1.6-0.8 0.8-1 0.2-2-0.8-2-1.7-2-1.8-1-5.6-2-3.7-0.9-4-0.4-5 0-4.5 0.3-4.6 1-4.1 2-1.2 1-0.7 1-0.6 2-2.4 4z"/>
<path fill="#008cff" d="M362.1 346.6l1.2-2 1.2-1.2 2-1.5 3-1.4 17-4.1 4.4-0.8 17.3 0 19.3 3.6 3 1 3 1.6 2.1 1.8 1.5 2 0.6 2 0.6 5 1.2 3.9 0 10.9-2.8 8.2-1.2 2-1 0.9-2 1.2-5 1.5-6 2.5-2 0.2-2-0.1-6-1.5-4-0.5-3 0.1-7 1-10 0.3-7 0.8-3-0.2-4-1.2-2-0.1-1 0.2-4 2.1-1 0.2-1-0.2-1.6-1.2-1.3-2-1.3-3-0.5-3-0.3-19.2 1-3 0.9-4.8zM374.6 363.6l0.4 2 0.9 1 3.6 1 4 0.3 3-0.4 1.8-0.9 0.6-1 0.3-2 1.2-2 2.1-1.7 2-0.6 4-0.2 3 0.2 11 3.7 10 1.2 1-0.4 0.3-1.2-0.2-2-1.4-3-2.6-3-2.9-2-5.7-2-5.5-1.6-4-0.5-4 0-5 0.3-4 0.8-2.7 1-4 2-1.2 1-1.8 3-3.4 4z"/>
<path fill="#00a6ff" d="M362.9 346.6l1.3-2 1.3-1.2 2-1.4 2-0.9 3-1 14-3 7-1.1 6-0.2 7 0.3 17 2.8 4 0.9 3 1.1 2.9 1.7 2 2 1.1 2 0.5 2 0.3 5 1.3 4 0.6 3-0.1 3-0.6 3-3.5 9-1.4 2-1.2 1-1.9 1-9 3.3-3 0.3-8-1.4-4-0.3-10 1.1-9 0.2-8 0.5-2-0.3-4-1.3-2-0.2-2 0.6-3 1.5-1.6 0-1.4-0.8-1-1.3-1.5-3.9-0.5-8-0.8-6 0.2-4 1.7-6 0.7-5zM371.6 363.6l0.1 2 0.8 2.1 1 1.1 2 0.7 10-0.8 4.2-1.1 1.3-1 0.3-3 1.2-1.7 2-1 3-0.4 3.6 0.1 3.8 1 7.6 3.5 9.8 3.5 2.2 0.5 2 0 0.9-0.5 0.9-2-0.1-2-0.6-2-2-4-1.7-2-3.6-3-4.5-2-8.3-2.7-3-0.8-3-0.3-6 0.1-5 0.5-3 0.9-5.2 2.3-3.2 2-2.3 3-3.6 3-1.1 2z"/>
<path fill="#00bfff" d="M435.2 345.6l0.9 3-0.1 5 1.8 6 0.1 4-0.4 2.2-1 2.8-3 6.9-1.6 2.1-1.4 1-8 3.2-3 0.6-12-1.2-11 1.1-17 0.1-2-0.3-4-1.3-2-0.3-2 0.5-3 1.4-1 0.1-1.7-0.9-1.3-2-1-4-0.1-6-0.5-7 0.2-3 1.5-5 0.2-5 0.9-3 1.8-2.5 3-2 5-1.7 16-3 6.6-0.8 6.9 0 7.5 0.9 16 2.6 3 1 2.9 1.5 1.2 1zM369.7 363.6l0.6 3 1.2 2.5 1.3 1.5 1.7 0.6 16.9-2.6 3.7-1 5.4-2.5 12 2.2 10 3.4 3 0.7 2 0 1.6-0.8 0.8-1 0.5-2-0.2-3-1.5-4-2.4-4-2.4-2-3.5-2-2.7-1-6.2-1.9-5-1.8-5-0.9-7 0.1-5 0.8-3 1.1-7.7 3.6-1.3 1-2 2.3-4 3.2-1.4 2.5z"/>
<path fill="#00d9ff" d="M434.5 345.7l0.7 1.9 0.1 2-1.3 5 0.2 1 1.6 3 0.6 3-0.2 2-0.7 2.4-1 1.8-1 0.4-1.4-4.6-2.7-7-0.7-1-3.8-2-4.4-1.8-7.9-2.2-6.1-2.6-5-0.9-7 0.1-5 0.8-6 2.9-6.6 2.7-3.4 3-3.1 2-1.5 2-1 3 0 2 1.1 3 2.5 4.1 1 0.9 1 0.4 2-0.2 9-1.9 19-2.4 5 0 5 1 12 3.9 2 0.3 4-0.6 0.2 1.5-1 2-1.1 1-1.7 1-4.8 2-3.6 0.8-4 0.1-9-0.6-11 1.1-15-0.5-3-0.6-4-1.3-2-0.4-2 0.5-3 1.3-1 0-1-0.5-1-1.2-1-3.7-0.1-13 0.3-3 1.5-4 0.1-1-0.7-4 0.1-2 0.7-2 1.4-2 1.7-1.4 2-1.1 4-1.2 8-1 11-2 5-0.4 6 0.1 18 2 5 1 3 1 1.9 1 2.1 1.7z"/>
<path fill="#00f2ff" d="M364.3 349.6l0.2-1.5 0.5-1.5 1.5-1.9 2-1.5 3-1.3 5-0.9 9-0.3 8.5-1.1 4.5-0.2 20 0.5 7 0.9 3 0.9 3.3 1.9 1.9 2 0.8 2 0.1 1-0.5 2-0.6 1.1-1 0.9-2 0.7-2 0-16-4.3-8-4.2-4-0.6-6 0.1-5 1-6.7 4.3-6 2-2.3 1-3 1.9-2 0.5-1 0-2-1-1-1.1-0.7-1.3zM365.5 369.2l1-0.1 1 0.8 1 1.2 1.4 2.5 0.5 2-0.7 1-3.2 1.7-1-0.2-1-1.3-0.3-1.2 0.3-4.6zM374.2 376.6l0.6-1 1.5-1 2.3-1 3.9-1.1 10-1.5 11-0.5 7 0.5 7 1.5 5.6 2.1 1.5 1 0.8 1-0.3 1-1.3 1-2.3 1.1-3.3 0.9-3.7 0.2-8-0.2-11 1-9-0.4-5.4-0.6-3.3-1-1.9-1-1.2-1z"/>
<path fill="#0dfff2" d="M409.0 343.6l0.8-1 1.6-1 4.1-1 5-0.1 5 0.8 3.7 1.3 2.8 2 1.3 2 0.3 1-0.1 1.8-1 1.5-1 0.7-2 0.4-3-0.3-10-2.2-3.4-0.9-2.1-1-2-2-0.3-1zM385.6 344.6l0.1 1-0.4 1-0.7 1-1.3 1-2.3 1-9.5 2.8-2 0.5-2-0.4-1-0.5-1-1.4-0.3-1 0.2-2 1-2 2.4-2 2.7-1.2 4.2-0.8 4.8 0.1 3.1 0.9 1.4 1zM378.6 376.6l0.7-1 1.7-1 4.5-1.3 7-1.1 8-0.4 7 0.3 7 1.2 4 1.3 1.7 1 0.8 1-0.2 1-1 1-3.3 1.2-3 0.4-7 0-11 1-8.7-0.6-4.8-1-2.2-1-1-1z"/>
<path fill="#26ffd9" d="M411.3 344.6l0.6-1 1.4-1 2.5-1 3.7-0.4 4.8 0.4 3.4 1 3.2 2 1.5 2 0.1 2-1 1.4-1 0.5-2 0.3-12-2-4-1.5-0.9-0.7-0.5-1zM366.1 348.6l0.6-2 1.7-2 2.1-1.2 3-0.9 3-0.3 3.4 0.4 2.2 1 1.1 1 0.5 1-0.1 1-0.6 1-1.5 1-11 2.6-2 0-1-0.3-1-0.9zM383.0 376.6l1-1 2.4-1 4.1-1 6-0.6 6-0.1 6 0.5 5.1 1.2 2.2 1 1 1 0.1 1-1.2 1-3.2 0.8-7 0.5-6 0.7-4 0.2-3-0.2-6-1-2.5-1-1.1-1z"/>
<path fill="#40ffbf" d="M413.4 345.6l0.3-1 1.1-1 2.1-1 2.6-0.5 3 0.1 3 0.5 2.4 0.9 1.5 1 1.1 1.1 0.5 1.9-0.5 1-1 0.5-2 0.2-11.6-1.7-2-1zM367.6 347.6l0.9-1.7 1.5-1.3 2.3-1 4.2-0.4 2 0.3 2 0.9 1.1 1.2 0 1-1.1 1.1-3.1 0.9-5.9 1-2 0-1-0.3-0.8-0.7zM387.2 377.6l0.3-1 1-0.7 3-1.1 4-0.7 5-0.3 5 0.4 4 0.8 1.7 0.6 1.4 1 0.1 1-2.2 1.1-10 1.3-4 0.2-5.6-0.6-2.7-1z"/>
<path fill="#59ffa6" d="M419.0 345.6l0.1-1 3.4-0.6 2.9 0.6 1.3 1-0.2 0.4-0.8 0.6-3.2-0.1zM373.1 345.6l1.4-0.2 1.4 0.2-2.4 0.9zM391.3 377.6l0.6-1 2.4-1 3.2-0.5 3-0.1 5.6 0.6 2.2 1 0.1 1-2.7 1-8.2 1-5-0.9z"/>
<path fill="#73ff8c" d="M396.4 377.6l2.1-1 2-0.1 1 0.1 1.4 1-3.4 0.7z"/>
</g>
<path fill="none" stroke="#000" stroke-opacity="0.35" stroke-width="0.45" d="M397.1 353.6l2.4 0.3 2.8-0.3-2.8-0.4zM434.7 387.6l-1-2-1-1-1.2-0.8-2-0.4-2.1 0.2-2.2 1-2.7 1.7-2 0.4-4-0.5-6.4-2.6-3.6-0.5-3 0.3-7 1.3-8 0.3-7.7 1.6-2.3 0.9-0.7 1.1-0.5 8-0.8 3-1.2 3-0.1 2 0.7 1 1.4 1 3.2 1.3 6 1.3 7 0.9 7 0.2 6-0.3 7-1 5-1.1 5-1.7 3.3-1.6 3.1-2 2.6-2.6 1.5-2.4 0.9-3 0.3-4zM408.2 335.6l0.3 0 1 0.2 1 0.1 1 0.2 1 0.2 1 0.2 0.5 0.1 0.5 0.1 1 0.2 1 0.2 1 0.2 1 0.2 0.6 0.1 0.4 0.1 1 0.1 1 0.2 1 0.2 1 0.1 1 0.3 0.1 0 0.9 0.2 1 0.2 1 0.2 1 0.3 0.1 0.1 0.9 0.3 1 0.3 0.8 0.4 0.2 0.1 1 0.5 0.7 0.4 0.3 0.2 1 0.8 0.1 0 0.9 0.9 0.1 0.1 0.8 1 0.1 0.1 0.6 0.9 0.4 1 0 0.2 0.2 0.8 0.2 1 0.1 1 0.1 1 0 1 0.2 1 0.2 0.9 0 0.1 0.3 1 0.4 1 0.3 0.9M359.5 356.4l0.3-0.8 0.3-1 0.4-1 0-0.2 0.2-0.8 0.2-1 0.1-1 0.2-1 0.2-1 0.1-0.2 0.2-0.8 0.4-1 0.4-0.7 0.1-0.3 0.7-1 0.2-0.2 0.8-0.8 0.2-0.2 0.9-0.8 0.1 0 1-0.7 0.5-0.3 0.5-0.3 1-0.5 0.7-0.2 0.3-0.1 1-0.4 1-0.3 1-0.2 0 0 1-0.3 1-0.2 1-0.2 1-0.2 0.7-0.1 0.3-0.1 1-0.2 1-0.2 1-0.3 0.9-0.2 0.1 0 1-0.3 1-0.3 1-0.2 1-0.2 0 0 1-0.2 1-0.2 1-0.2 1-0.2 1-0.1 0.4-0.1M439.5 367.4l-0.1 0.2-0.3 1-0.4 1-0.2 0.6-0.1 0.4-0.4 1-0.3 1-0.2 0.5-0.2 0.5-0.3 1-0.3 1-0.2 0.3-0.3 0.7-0.7 1 0 0-1 0.9-0.1 0.1-0.9 0.6-0.7 0.4-0.3 0.1-1 0.4-1 0.3-0.7 0.2-0.3 0.1-1 0.2-1 0.3-1 0.4-0.1 0-0.9 0.4-1 0.4-0.4 0.2-0.6 0.3-1 0.4-0.8 0.3-0.2 0.1-1 0.1-1 0.1-1 0-1-0.1-0.9-0.2-0.1 0-1-0.3-1-0.2-1-0.3-0.8-0.2-0.2 0-1-0.3-1-0.1-1-0.2-1-0.1-1-0.1-1 0-1 0.1-1 0-1 0.2-1 0.1-1 0.2-1 0.1-0.5 0.1-0.5 0.1-1 0.1-1 0.1-1 0.1-1 0-1 0-1 0.1-1 0-1 0-1 0-1 0-1 0-1 0.1-1 0.1-1 0.1-1 0.1-0.7 0.1-0.3 0-1 0.2-1 0.1-1 0.1-1 0-1-0.1-1-0.1-0.7-0.2-0.3-0.1-1-0.3-1-0.3-1-0.3 0 0-1-0.2-1 0.1-0.6 0.1-0.4 0.1-1 0.5-0.8 0.4-0.2 0.1-1 0.6-0.7 0.3-0.3 0.2-1 0.2-1-0.2-0.3-0.2-0.7-0.4-0.6-0.6-0.4-0.5-0.3-0.5-0.6-1-0.1-0.1-0.5-0.9-0.4-1-0.1-0.4-0.2-0.6-0.3-1-0.2-1 0-1-0.1-1 0-1 0-1 0-1-0.1-1-0.1-1 0-0.3M374.6 363.6l0.4 2 0.9 1 3.6 1 4 0.3 3-0.4 1.8-0.9 0.6-1 0.3-2 1.2-2 2.1-1.7 2-0.6 4-0.2 3 0.2 11 3.7 10 1.2 1-0.4 0.3-1.2-0.2-2-1.4-3-2.6-3-2.9-2-5.7-2-5.5-1.6-4-0.5-4 0-5 0.3-4 0.8-2.7 1-4 2-1.2 1-1.8 3-3.4 4zM364.3 349.6l0.2-1.5 0.5-1.5 1.5-1.9 2-1.5 3-1.3 5-0.9 9-0.3 8.5-1.1 4.5-0.2 20 0.5 7 0.9 3 0.9 3.3 1.9 1.9 2 0.8 2 0.1 1-0.5 2-0.6 1.1-1 0.9-2 0.7-2 0-16-4.3-8-4.2-4-0.6-6 0.1-5 1-6.7 4.3-6 2-2.3 1-3 1.9-2 0.5-1 0-2-1-1-1.1-0.7-1.3zM365.5 369.2l1-0.1 1 0.8 1 1.2 1.4 2.5 0.5 2-0.7 1-3.2 1.7-1-0.2-1-1.3-0.3-1.2 0.3-4.6zM374.2 376.6l0.6-1 1.5-1 2.3-1 3.9-1.1 10-1.5 11-0.5 7 0.5 7 1.5 5.6 2.1 1.5 1 0.8 1-0.3 1-1.3 1-2.3 1.1-3.3 0.9-3.7 0.2-8-0.2-11 1-9-0.4-5.4-0.6-3.3-1-1.9-1-1.2-1zM419.0 345.6l0.1-1 3.4-0.6 2.9 0.6 1.3 1-0.2 0.4-0.8 0.6-3.2-0.1zM373.1 345.6l1.4-0.2 1.4 0.2-2.4 0.9zM391.3 377.6l0.6-1 2.4-1 3.2-0.5 3-0.1 5.6 0.6 2.2 1 0.1 1-2.7 1-8.2 1-5-0.9z"/>
</g>
<g fill="none" stroke="#111" stroke-width="0.9">
<circle cx="399.5" cy="375.6" r="23.7"/>
<path d="M395.90 352.20 L399.50 348.70 L403.10 352.20"/>
<rect x="373.50" y="369.60" width="2.9" height="12.8" rx="1.2"/>
<rect x="422.60" y="369.60" width="2.9" height="12.8" rx="1.2"/>
</g>
<g fill="#111"><circle cx="394.20" cy="399.10" r="1.05"/><circle cx="404.80" cy="399.10" r="1.05"/><circle cx="391.40" cy="400.80" r="1.05"/><circle cx="407.60" cy="400.80" r="1.05"/><circle cx="396.90" cy="402.10" r="1.05"/><circle cx="402.10" cy="402.10" r="1.05"/><circle cx="393.50" cy="403.30" r="1.05"/><circle cx="405.50" cy="403.30" r="1.05"/><circle cx="390.40" cy="405.60" r="1.05"/><circle cx="408.60" cy="405.60" r="1.05"/><circle cx="396.20" cy="406.60" r="1.05"/><circle cx="402.80" cy="406.60" r="1.05"/></g>
<clipPath id="ct5"><circle cx="507.3" cy="375.6" r="38.0"/></clipPath>
<g clip-path="url(#ct5)"><g filter="url(#bl)">
<rect x="466.3" y="334.6" width="82.0" height="82.0" fill="#0000d9"/>
<path fill="#0000f2" d="M467.3 335.6l80 0 0 80-80 0zM515.0 383.6l-0.2 1 0.5 2 1 2.4 1 1.1 1 0.4 1-0.1 1.9-0.8 0.9-1 0.5-1 0-2-0.5-1-0.9-1-1.9-0.9-1-0.2-2 0.1z"/>
<path fill="#000dff" d="M467.3 335.6l80 0 0 80-80 0zM476.3 357.5l-1 0.1-1 0.9-0.4 1.1 0.1 2 0.3 0.7 1 0.7 1-0.4 1-2 0.1-2zM513.4 382.6l-0.4 1 0.2 1 2.1 5.3 1 1.4 1 0.5 1 0.1 2-0.3 2-1 1-1 1-2 0-2-1-2-1.1-1-1.9-1-3-0.4-2.4 0.4z"/>
<path fill="#0026ff" d="M467.3 335.6l80 0 0 80-80 0zM476.3 353.8l-2 0.5-2 1.9-1 2.2-0.3 2.2 0.3 2.2 1 2.2 2 1.8 2 0.3 1.3-0.5 0.7-0.6 0.8-1.4 1.2-3.8 0.3-2.2-0.3-1.8-1-1.6-1-0.8zM491.9 381.6l0.5 1 2.4 1 1.5 0.1 1.4-0.1 1.6-0.7 1-1.3-0.3-1-2.2-1-1.5-0.1-1.8 0.1-2.2 1zM512.9 381.6l-0.9 1-0.1 1 0.3 1 3.1 6.9 1 0.9 2 0.4 2-0.3 2.1-0.9 2.2-2 0.8-2 0-2-0.8-2-2.2-2-2.8-1-2.3-0.2-2 0.2z"/>
<path fill="#0040ff" d="M467.3 335.6l80 0 0 80-80 0zM476.3 352.3l-2 0.5-2.4 1.8-1.6 3-0.4 3 0.4 3 1.6 3 1.4 1.3 1 0.5 2 0.4 2-0.8 1.2-1.4 1.8-5.4 0.4-2.6-0.1-2-1.3-2.3-2-1.5zM489.7 381.6l0.4 1 1.3 1 2.9 0.9 2 0.2 2-0.1 2-0.8 1.4-1.2 0.6-1-0.1-1-1-1-2.9-1-2-0.1-2.3 0.1-2.7 0.8-1.4 1.2zM511.5 381.6l-0.5 1 0.4 2 3.3 7 0.6 0.9 1 0.7 2 0.4 3-0.6 2.6-1.4 1.7-2 0.8-2 0-2-1.1-2.5-2-1.8-3-1.2-3-0.3-4 0.7z"/>
<path fill="#0059ff" d="M467.3 335.6l80 0 0 80-80 0zM476.3 351.1l-2 0.4-1 0.4-2 1.7-1.7 3-0.6 3 0.3 4 1.3 3 1.7 2 1 0.8 2 0.7 2-0.2 1-0.4 1-0.8 0.8-1.1 1.2-3.4 1.3-5.6-0.3-3-1.1-2-1.9-1.6-1-0.5zM473.3 375.7l-1 0.3-1 1.2-0.5 2.4 0.5 2.4 1 1.1 1 0.3 1-0.3 1-1.1 0.6-2.4-0.6-2.5-1-1.1zM487.8 381.6l0.5 1 1 0.9 2 1 3 0.8 3 0.2 3-0.7 1.8-1.2 1.7-2 0.1-1-0.8-1-1.8-1-3-0.7-4-0.1-3 0.5-2 0.9-1.3 1.4zM510.3 381.6l-0.3 1 0.2 1 2.3 4 1.8 4.3 1 1.4 1 0.7 1 0.3 2 0 3-0.8 2.9-1.9 1.5-2 0.8-3-0.4-2-1.1-2-0.9-1-1.8-1.2-3-0.9-4-0.1-4 0.9z"/>
<path fill="#0073ff" d="M467.3 335.6l80 0 0 80-80 0zM492.9 349.6l1.4 0.5 10 0.7 1-0.2 0.5-1-0.2-1-1.3-1.1-2-0.9-3-0.3-3 0.3-2 0.9-1.3 1.1zM477.3 349.8l-3 0.2-2 1-1 0.9-1.5 1.7-1 2-0.9 4 0.1 3 0.8 3 1 2 2.7 4-0.3 1-1.9 2.2-0.9 1.8-0.4 2 0.2 3 0.7 2 0.7 1 1.1 1 1.6 0.5 2-0.8 1-1 0.9-1.7 0.5-2 0-2-0.5-2-1.2-3-0.1-1 3.4-2.2 1.3-1.8 0.8-2 2.1-9-0.4-3-1.1-2-1.7-1.6zM485.8 381.6l0.5 1 1.2 1 2.8 1.3 4 1 4 0.3 2-0.5 1.8-1.1 3.5-3 0.1-1-0.8-1-1.6-1-2-0.7-3-0.6-4-0.1-3.9 0.4-2.8 1-1.2 1-0.6 1zM508.8 381.6l0.1 1 3.2 5 2.2 5.3 1 1.3 1 0.7 1 0.3 2 0.1 4-1.1 3-2.2 1.7-2.4 0.7-3-0.7-3-1.4-2-2.3-1.6-4-1-4 0-5 1-1.5 0.6z"/>
<path fill="#008cff" d="M467.3 335.6l80 0 0 80-80 0 0-32.1 0.8 2.1 1.4 2 1.8 1.3 2 0.3 1-0.3 2-1.4 1.7-1.9 2.3-3.3 1-0.6 3.3 1.9 5.7 2.1 3 0.7 5 0.6 2-0.4 5-3.4 1-0.4 1 0.1 2 1.6 2 2.5 3 6.9 1 1.5 1 0.9 1 0.5 2 0.3 4-0.8 2-1 2.4-1.7 2.4-3 0.8-2 0.2-2-0.6-3-0.5-1-1.7-1.8-2.2-1.2-3.8-0.9-6-0.1-8 1.2-2-0.6-3.8-1.6-2.2-0.5-3-0.4-4-0.1-7 0.5-2 0.7-3 1.7-1-1.6-0.5-2.3 0-2 1.5-3.4 1.7-7.6 2.4-8 0.9-0.8 3 0.1 8-0.9 3 0.2 6 1.2 1-0.1 1-0.7 1.9-3 0.7-2-0.3-2-0.7-1-1.2-1-3.4-1.6-4-0.8-5 0.2-4 1-3 1.5-2 1.7-2 2.6-1 0.9-1-0.2-4-2.1-2-0.5-2 0-2 0.5-2 1.1-1.8 1.7-2.2 3.5zM542.3 372.5l-1 0-1 0.7-1.2 1.4-1.3 3-0.5 3 0.2 4 0.8 3.7 1 2 1 1 1 0.3 1-0.3 0.7-0.7 1.1-2 0.9-3 0.3-3-0.2-4-0.6-3-1.2-2.4zM467.3 367.4l1 2.6 0.2 1.6-1.2 3.9z"/>
<path fill="#00a6ff" d="M543.0 356.6l0.4 3-0.2 3-0.5 2-1.7 3-3.9 5-2.8 2.8-3 1.7-3 0.9-10 0.1-8 0.8-2 0-8-2.4-4-0.5-6-0.2-3-0.6-1.4-0.6-1.6-1.2-1-1.6-0.4-1.2-0.1-3 0.7-4 1.8-5.2 1.4-1.8 3.6-1.4 6-1 4 0.2 5 1.3 2 0.2 1-0.4 1-1 3-4.6 2-2.4 3-2.1 4-1.4 3-0.3 4 0.1 4 1.1 2 0.9 3 2 2.7 2.8 1.9 3zM518.3 409.6l-1.1 2-1 1-1.9 1.2-4 1.2-4 0.3-4-0.7-3-1.4-2-1.6-2-2.7-0.6-0.3-7.4-0.3-4-1.2-2-1.1-2-1.6-1.6-1.8-1.2-2-0.7-2-0.3-2 0.1-2 0.4-2 1-2 2.3-3 2-1.6 1-0.5 3-0.2 8 1.9 6 0.8 1-0.3 5-3.6 2-0.2 1 0.5 2 1.9 1.9 3.3 2.6 7 0 2-0.8 3 0.2 1 3.1 3 0.6 1 0.5 2z"/>
<path fill="#00bfff" d="M541.5 357.6l0.3 3-0.5 3-1.3 3-2 3-2.7 3.1-2 1.6-3 1.5-4 1.3-14 1.2-3 0.1-2-0.4-7-2.1-10-1.2-2-0.7-2.1-1.4-1.6-2-0.6-2 0.1-4 1.2-4 1.3-2 1.7-1.3 5-1.7 4-0.4 3.8 0.4 5.2 1.5 1 0.1 1-0.3 1-0.9 4-5.7 2-1.9 2-1.3 2-0.9 3-0.8 3-0.3 3 0.3 3 0.8 4 2.1 2.6 2.3 1.5 2 1.1 2zM513.8 395.6l-0.1 2-0.9 2-2.5 2.5-2 0.8-2 0-2-0.6-3-1.5-1 0.2-3 2.7-2 1.4-3 1.1-3 0.2-4-0.7-2-1-2-1.4-1.6-1.7-1.1-2-0.7-2-0.2-2 0.6-3 1-2 2-2.3 2-1.2 3-0.3 13 2.6 1-0.4 4-3.7 2-0.7 2 0.5 2.5 2.5 1.5 3z"/>
<path fill="#00d9ff" d="M540.5 357.6l0.2 3-0.5 3-1.2 3-2.9 4-2 2-2.8 1.8-4 1.6-4 1-11 1-3 0-10-2.9-8-1.5-2.4-1-1.3-1-1.5-2-0.7-2-0.1-3 1-3 1.5-2 1.5-1.2 1.7-0.8 2.3-0.7 4-0.5 3 0.3 6 1.8 2-0.4 1.5-1.5 3.5-5 2-2 3-1.9 4-1.3 3-0.3 3 0.3 3 0.8 2.7 1.4 2.3 1.8 1.9 2.2 1.2 2zM512.9 393.6l0.3 2-0.3 2-1.1 2-1.5 1.2-2 0.7-3-0.2-2-1-3-2.1-1 0.2-2.4 3.2-1.6 1.5-2 1.1-2 0.5-3-0.2-2.4-0.9-2.5-2-1.5-2-0.6-1.4-0.3-1.6 0.1-2 0.7-2 1.5-1.9 1-0.6 2-0.5 3 0.2 5.2 0.8 3.8 1.4 1-0.1 1-0.9 3-4.1 1.8-1.3 1.2-0.3 2 0.5 2 1.7 1.2 2.1z"/>
<path fill="#00f2ff" d="M539.3 356.6l0.5 3-0.2 3-1.1 3-2.2 3.6-2.3 2.4-2.7 1.9-3 1.4-4 1.3-4 0.7-7 0.7-5-0.2-8.1-2.8-4.7-2-2.8-2-1.2-2-0.2-1.9 0.3-1.1 0.7-1.3 1.9-1.7 3.1-1.2 7-0.5 3-0.8 2-1.6 4-5.7 2-2.2 3-2 3-1.2 3-0.4 3 0.1 2.5 0.5 2.5 1 2 1.2 2 1.8 2 2.7zM506.3 385.9l2 0.5 2 1.8 1.3 2.4 1.1 4-0.1 2-0.8 2-1.5 1.4-2 0.8-2 0-2-0.7-2.6-2.5-0.9-2 0.1-3 1.2-3 1.2-1.9 1-0.9zM492.3 393.6l2 0.9 1.1 1.1 0.8 2-0.1 2-1.2 2-1.6 1.2-2 0.5-2-0.3-2-1.4-0.7-1-0.4-2 0.4-2 0.7-1.1 2-1.6 2-0.4z"/>
<path fill="#0dfff2" d="M537.4 354.6l0.9 2.1 0.5 2.9-0.3 3-1.1 3-1.8 3-1.7 2-2.6 2-3.8 2-3.2 1.1-4 0.9-6 0.7-4 0.1-3-0.7-5.4-2.1-1.8-1-1.1-1-0.5-1 0.1-2 1.5-2 6.2-4.2 3-3.6 5-6.9 2.5-2.3 2.5-1.5 2-0.7 3-0.5 3 0.1 2.7 0.6 2.3 1 2 1.4 1.6 1.6zM506.3 386.6l2 0.4 2 1.9 1.3 2.7 0.7 3-0.1 2-0.9 1.8-1 1-2 0.9-2 0-2-0.8-1.8-1.9-0.8-2 0-3 1.1-3 1.5-2zM489.3 395.5l1-0.4 2 0 1 0.4 1.1 1.1 0.4 1-0.1 2-0.5 1-0.9 0.9-1 0.5-2 0-1-0.4-1-1-0.5-1 0-2 0.4-1z"/>
<path fill="#26ffd9" d="M536.3 355.6l0.7 2 0.4 2-0.1 2-1 3.2-2 3.5-1.9 2.3-2.6 2-2.5 1.4-3 1.3-3 0.8-6 0.9-4 0.2-3-0.5-3.1-1.1-3.7-2-0.9-1-0.4-1 0.1-1 1-2 2-1.7 4-2.8 6-8.6 3-3 3-2 2.5-0.9 2.5-0.4 4.5 0.4 2.5 1 1.6 1 2.1 2zM506.3 387.3l1.9 0.3 1.1 0.8 1.5 2.2 1 3 0.1 2-0.6 2-1 1.2-2 1-2 0-2-0.9-1.2-1.3-0.7-2 0-3 0.9-2.6 1-1.5 1-0.9zM490.3 396.3l1-0.2 1 0.2 1.3 1.3 0.2 1-0.2 1-1.3 1.3-1 0.2-1-0.2-1.3-1.3-0.2-1 0.2-1z"/>
<path fill="#40ffbf" d="M531.9 360.6l0.6 2 0.2 2-0.2 2-0.7 2-2.2 3-2.7 2-2.1 1-3 1-3.5 0.7-4 0.5-3 0.1-3-0.5-2.2-0.8-2.8-1.5-1.6-1.5-0.3-1 0-1 1.2-2 5.5-4 3.2-5.2 2-2.5 2-1.6 2-1.1 2-0.5 2-0.1 2 0.2 2 0.6 2 1 2 1.5 1.5 1.7zM506.3 388.1l1 0 1 0.3 1 0.8 1 1.4 1.1 3 0.1 2-0.7 2-0.9 1-1.6 0.8-2 0-1.6-0.8-1-1-0.9-2 0-2 0.9-3 1.5-2zM491.3 397.4l0.6 0.2 0.6 1-0.2 0.5-1 0.7-1-0.6-0.2-0.6 0.6-1z"/>
<path fill="#59ffa6" d="M529.1 361.6l0.8 2 0.2 2-0.1 2-0.5 2-1.3 2-1.1 1-3.5 2-6.3 1.6-6 0.4-3-0.5-2-0.8-2.9-1.7-0.8-1-0.3-1 0.1-1 1.2-2 5.4-4 3.3-5.1 2-2 2-1 2-0.5 2 0 2 0.3 2 0.7 3 2.1zM506.3 389.1l1-0.1 1 0.3 1 0.9 1 1.4 0.7 2 0.1 2-0.2 1-0.6 1-1 0.9-1 0.5-2 0-1-0.5-1.1-0.9-0.9-2 0-2 0.7-2 1.3-1.9z"/>
<path fill="#73ff8c" d="M527.3 362.1l1.1 3.5 0 2-0.5 2-1 2-1 1-3.5 2-6.1 1.5-5 0.3-3-0.6-2-0.8-2.1-1.4-0.8-1-0.4-1 0.6-2 1.7-1.7 3.6-2.3 1.1-1 3.3-4.5 2-1.5 2-0.7 2-0.3 3 0.5 2.8 1.5zM506.3 390.3l1-0.2 1 0.3 1 0.9 1.2 2.3 0.2 2-0.3 1-0.6 1-1.5 0.9-2 0-1-0.5-1-1.1-0.5-1.3 0.1-2 0.4-1.2 1-1.4z"/>
<path fill="#8cff73" d="M526.2 367.6l0.1 2-0.2 1-1.4 2-1.4 1-2.1 1-4.9 1.3-4 0.3-4-0.7-2.1-0.9-1.4-1-0.8-1-0.3-1 0.1-1 0.5-1 1-1.1 4.6-2.9 3.4-2.6 3-1.2 3-0.2 3 0.9 2 1.5 1 1.2zM507.3 391.3l1 0.3 1 0.8 1 2.2-0.4 2-0.6 0.9-1 0.6-1 0.1-1-0.1-1-0.6-0.7-0.9-0.4-2 0.3-1 0.8-1.4 1-0.7z"/>
<path fill="#a6ff59" d="M504.3 371.6l0.2-1 0.5-1 1.3-1.3 6-3.3 2-0.3 4 0.6 4 1.8 1.6 1.5 0.5 1 0.1 1-0.3 1-0.7 1-1.3 1-2.1 1-2.8 0.8-4 0.6-3-0.2-3-1-1.9-1.2-0.8-1zM506.3 392.6l1-0.3 1 0.3 1.1 1 0.4 2-0.4 1-1.1 1-1 0.2-1-0.2-1.1-1-0.4-1 0-1 0.5-1.2z"/>
<path fill="#bfff40" d="M504.9 371.6l0.1-1 0.6-1 1.7-1.5 4-2 2-0.4 3 0.3 3 1 2.4 1.6 0.8 1 0.4 1-0.1 1-0.6 1-1.2 1-3.7 1.5-4 0.7-3-0.2-2.8-1-1.5-1-0.8-1zM506.3 393.5l1-0.3 1 0.4 0.8 1 0.1 1-0.9 1.3-1 0.3-1.4-0.6-0.5-1 0.1-1z"/>
<path fill="#d9ff26" d="M505.5 371.6l0.1-1 0.6-1 1.1-1 3-1.6 3-0.7 3 0.5 3 1.3 1.7 1.5 0.4 1 0.1 1-0.5 1-1.1 1-2 1-2.6 0.7-3 0.3-2-0.3-2.2-0.7-1.5-1-0.8-1zM507.3 394.3l0.7 0.3 0.4 1-1.1 1-1.1-1 0.4-1z"/>
<path fill="#f2ff0d" d="M506.0 371.6l0.2-1 0.6-1 1.1-1 2.4-1.2 3-0.5 3 0.5 2.3 1.2 1.1 1 0.5 1 0.1 1-0.4 1-1 1-1.6 0.8-2 0.6-3 0.3-2-0.2-2-0.8-1.1-0.7-0.9-1z"/>
<path fill="#fff200" d="M506.5 371.6l0.2-1 0.6-0.9 1.4-1.1 2.6-1.1 2-0.1 2 0.3 2 0.9 1.2 1 0.6 1 0.2 1-0.4 1-1.6 1.3-2 0.8-3 0.3-2-0.2-2-0.9-1.4-1.3z"/>
<path fill="#ffd900" d="M507.1 371.6l0.2-1 1-1.2 2-1.2 2-0.4 2 0.2 2 0.7 1.2 0.9 0.7 1 0.2 1-0.4 1-1 1-2.5 1-2.2 0.2-2-0.3-1.9-0.9-1-1z"/>
<path fill="#ffbf00" d="M507.6 371.6l0.3-1 0.8-1 1.6-0.9 2-0.4 2 0.2 2 0.9 1 1.2 0.2 1-0.3 1-1.1 1-1.8 0.7-2 0.2-2-0.3-1.3-0.6-1-1z"/>
<path fill="#ffa600" d="M508.2 371.6l0.3-1 0.9-1 2.9-0.9 2 0.3 1.3 0.6 0.9 1 0.3 1-0.4 1-1.2 1-2.9 0.6-2.5-0.6-1.2-1z"/>
<path fill="#ff8c00" d="M508.9 371.6l0.2-1 1.2-1 2-0.4 2.2 0.4 1.2 1 0.3 1-0.4 1-1.3 0.9-2 0.3-2-0.5-1-0.7z"/>
<path fill="#ff7300" d="M509.6 371.6l0.7-1.3 2-0.7 2 0.6 0.5 0.4 0.4 1-0.9 1.2-2 0.6-2-0.6z"/>
<path fill="#ff5900" d="M510.4 371.6l0.6-1 1.3-0.3 1.3 0.3 0.6 1-0.8 1-1.1 0.2-1.1-0.2z"/>
<path fill="#ff4000" d="M512.3 371.1l0.7 0.5-0.7 0.4-0.7-0.4z"/>
</g>
<path fill="none" stroke="#000" stroke-opacity="0.35" stroke-width="0.45" d="M476.3 353.8l-2 0.5-2 1.9-1 2.2-0.3 2.2 0.3 2.2 1 2.2 2 1.8 2 0.3 1.3-0.5 0.7-0.6 0.8-1.4 1.2-3.8 0.3-2.2-0.3-1.8-1-1.6-1-0.8zM491.9 381.6l0.5 1 2.4 1 1.5 0.1 1.4-0.1 1.6-0.7 1-1.3-0.3-1-2.2-1-1.5-0.1-1.8 0.1-2.2 1zM512.9 381.6l-0.9 1-0.1 1 0.3 1 3.1 6.9 1 0.9 2 0.4 2-0.3 2.1-0.9 2.2-2 0.8-2 0-2-0.8-2-2.2-2-2.8-1-2.3-0.2-2 0.2zM467.3 367.4l0.1 0.2 0.3 1 0.5 1 0.1 0.4 0.1 0.6 0.1 1-0.2 0.8 0 0.2-0.4 1-0.4 1-0.2 0.9M467.3 383.5l0 0.1 0.3 1 0.5 1 0.2 0.3 0.4 0.7 0.6 0.8 0.2 0.2 0.8 0.7 0.5 0.3 0.5 0.3 1 0.3 1 0 1-0.3 0.5-0.3 0.5-0.3 0.9-0.7 0.1-0.1 0.9-0.9 0.1-0.2 0.7-0.8 0.3-0.4 0.4-0.6 0.6-0.9 0.1-0.1 0.8-1 0.1-0.3 1-0.6 1 0.6 0.2 0.3 0.8 0.3 1 0.5 0.3 0.2 0.7 0.3 1 0.3 0.9 0.4 0.1 0 1 0.4 1 0.3 0.8 0.3 0.2 0.1 1 0.3 1 0.2 1 0.2 1 0.2 0.2 0 0.8 0.1 1 0.2 1 0.1 1 0 1 0 1-0.4 0 0 1-0.6 0.6-0.4 0.4-0.3 0.9-0.7 0.1-0.1 1-0.7 0.4-0.2 0.6-0.4 1-0.4 1 0.1 1 0.6 0.1 0.1 0.9 0.9 0.1 0.1 0.8 1 0.1 0.1 0.7 0.9 0.3 0.4 0.3 0.6 0.6 1 0.1 0.3 0.3 0.7 0.4 1 0.3 1 0 0 0.4 1 0.5 1 0.1 0.3 0.5 0.7 0.5 0.8 0.3 0.2 0.7 0.7 0.8 0.3 0.2 0.2 1 0.2 1 0.1 1-0.1 1-0.2 0.7-0.2 0.3-0.1 1-0.2 1-0.5 0.4-0.2 0.6-0.3 1-0.6 0.1-0.1 0.9-0.6 0.4-0.4 0.6-0.6 0.4-0.4 0.6-0.8 0.2-0.2 0.6-1 0.2-0.5 0.2-0.5 0.4-1 0.1-1 0.1-1-0.1-1-0.2-1-0.3-1-0.2-0.3-0.3-0.7-0.7-0.9-0.1-0.1-0.9-0.8-0.2-0.2-0.8-0.5-1-0.4-0.2-0.1-0.8-0.3-1-0.2-1-0.2-1-0.2-0.8-0.1-0.2 0-1-0.1-1 0-1 0-1 0-1 0.1-0.2 0-0.8 0.1-1 0.1-1 0.2-1 0.2-1 0.2-1 0.1-0.5 0.1-0.5 0.1-1 0.1-0.9-0.2-0.1 0-1-0.4-1-0.5-0.2-0.1-0.8-0.3-1-0.4-0.8-0.3-0.2-0.1-1-0.2-1-0.2-1-0.2-1-0.1-1-0.1-1-0.1 0 0-1 0-1 0-1 0-0.9 0-0.1 0-1 0-1 0.1-1 0.1-1 0-1 0.2-1 0.1-1 0.3-0.6 0.2-0.4 0.2-1 0.5-0.5 0.3-0.5 0.5-1 0.4-0.6-0.9-0.4-0.7-0.1-0.3-0.2-1-0.2-1-0.1-1 0.1-1 0.5-1 0-0.1 0.4-0.9 0.4-1 0.2-0.4 0.2-0.6 0.2-1 0.2-1 0.2-1 0.2-0.9 0-0.1 0.2-1 0.3-1 0.2-1 0.3-1 0 0 0.3-1 0.3-1 0.3-1 0.1-0.4 0.2-0.6 0.3-1 0.2-1 0.3-0.9 0.1-0.1 0.9-0.8 1 0 1 0.1 1 0 1-0.1 1-0.2 0.3 0 0.7-0.1 1-0.2 1-0.2 1-0.1 1 0 1 0 1 0 1 0.1 1 0.1 1 0.2 0.9 0.2 0.1 0 1 0.2 1 0.3 1 0.2 1 0.1 1-0.1 1-0.7 0 0 0.8-1 0.2-0.3 0.4-0.7 0.5-1 0.1-0.2 0.3-0.8 0.3-1 0-1-0.3-1-0.3-0.5-0.4-0.5-0.6-0.6-0.6-0.4-0.4-0.2-1-0.6-0.5-0.2-0.5-0.2-1-0.4-1-0.2-0.8-0.2-0.2 0-1-0.2-1-0.2-1-0.1-1 0-1 0-1 0.1-1 0.2-1 0.1-0.2 0.1-0.8 0.2-1 0.2-1 0.4-0.5 0.2-0.5 0.2-1 0.5-0.5 0.3-0.5 0.3-0.9 0.7-0.1 0.1-1 0.9 0 0-0.9 1-0.1 0.2-0.7 0.8-0.3 0.6-0.4 0.4-0.6 0.5-1-0.2-0.4-0.3-0.6-0.3-1-0.6-0.3-0.1-0.7-0.4-1-0.4-0.7-0.2-0.3-0.1-1-0.2-1-0.1-1 0.1-1 0.2-0.1 0.1-0.9 0.2-1 0.5-0.5 0.3-0.5 0.3-0.8 0.7-0.2 0.2-0.8 0.8-0.2 0.2-0.7 0.8-0.3 0.6-0.3 0.4-0.5 1-0.2 0.5M542.3 372.5l-1 0-1 0.7-1.2 1.4-1.3 3-0.5 3 0.2 4 0.8 3.7 1 2 1 1 1 0.3 1-0.3 0.7-0.7 1.1-2 0.9-3 0.3-3-0.2-4-0.6-3-1.2-2.4zM539.3 356.6l0.5 3-0.2 3-1.1 3-2.2 3.6-2.3 2.4-2.7 1.9-3 1.4-4 1.3-4 0.7-7 0.7-5-0.2-8.1-2.8-4.7-2-2.8-2-1.2-2-0.2-1.9 0.3-1.1 0.7-1.3 1.9-1.7 3.1-1.2 7-0.5 3-0.8 2-1.6 4-5.7 2-2.2 3-2 3-1.2 3-0.4 3 0.1 2.5 0.5 2.5 1 2 1.2 2 1.8 2 2.7zM506.3 385.9l2 0.5 2 1.8 1.3 2.4 1.1 4-0.1 2-0.8 2-1.5 1.4-2 0.8-2 0-2-0.7-2.6-2.5-0.9-2 0.1-3 1.2-3 1.2-1.9 1-0.9zM492.3 393.6l2 0.9 1.1 1.1 0.8 2-0.1 2-1.2 2-1.6 1.2-2 0.5-2-0.3-2-1.4-0.7-1-0.4-2 0.4-2 0.7-1.1 2-1.6 2-0.4zM529.1 361.6l0.8 2 0.2 2-0.1 2-0.5 2-1.3 2-1.1 1-3.5 2-6.3 1.6-6 0.4-3-0.5-2-0.8-2.9-1.7-0.8-1-0.3-1 0.1-1 1.2-2 5.4-4 3.3-5.1 2-2 2-1 2-0.5 2 0 2 0.3 2 0.7 3 2.1zM506.3 389.1l1-0.1 1 0.3 1 0.9 1 1.4 0.7 2 0.1 2-0.2 1-0.6 1-1 0.9-1 0.5-2 0-1-0.5-1.1-0.9-0.9-2 0-2 0.7-2 1.3-1.9zM504.9 371.6l0.1-1 0.6-1 1.7-1.5 4-2 2-0.4 3 0.3 3 1 2.4 1.6 0.8 1 0.4 1-0.1 1-0.6 1-1.2 1-3.7 1.5-4 0.7-3-0.2-2.8-1-1.5-1-0.8-1zM506.3 393.5l1-0.3 1 0.4 0.8 1 0.1 1-0.9 1.3-1 0.3-1.4-0.6-0.5-1 0.1-1zM507.1 371.6l0.2-1 1-1.2 2-1.2 2-0.4 2 0.2 2 0.7 1.2 0.9 0.7 1 0.2 1-0.4 1-1 1-2.5 1-2.2 0.2-2-0.3-1.9-0.9-1-1zM509.6 371.6l0.7-1.3 2-0.7 2 0.6 0.5 0.4 0.4 1-0.9 1.2-2 0.6-2-0.6z"/>
</g>
<g fill="none" stroke="#111" stroke-width="0.9">
<circle cx="507.3" cy="375.6" r="23.7"/>
<path d="M503.70 352.20 L507.30 348.70 L510.90 352.20"/>
<rect x="481.30" y="369.60" width="2.9" height="12.8" rx="1.2"/>
<rect x="530.40" y="369.60" width="2.9" height="12.8" rx="1.2"/>
</g>
<g fill="#111"><circle cx="502.00" cy="399.10" r="1.05"/><circle cx="512.60" cy="399.10" r="1.05"/><circle cx="499.20" cy="400.80" r="1.05"/><circle cx="515.40" cy="400.80" r="1.05"/><circle cx="504.70" cy="402.10" r="1.05"/><circle cx="509.90" cy="402.10" r="1.05"/><circle cx="501.30" cy="403.30" r="1.05"/><circle cx="513.30" cy="403.30" r="1.05"/><circle cx="498.20" cy="405.60" r="1.05"/><circle cx="516.40" cy="405.60" r="1.05"/><circle cx="504.00" cy="406.60" r="1.05"/><circle cx="510.60" cy="406.60" r="1.05"/></g>
<clipPath id="ct6"><circle cx="615.6" cy="375.6" r="38.0"/></clipPath>
<g clip-path="url(#ct6)"><g filter="url(#bl)">
<rect x="574.6" y="334.6" width="82.0" height="82.0" fill="#0dfff2"/>
<path fill="#26ffd9" d="M575.6 335.6l80 0 0 80-80 0zM580.4 378.6l0.2 0.2 0.2-0.2-0.2-0.2z"/>
<path fill="#40ffbf" d="M575.6 335.6l80 0 0 80-80 0zM579.6 377.4l-0.4 1.2 0.4 1.2 1 0.4 1-0.4 0.4-1.2-0.4-1.2-1-0.4zM651.4 378.6l0.2 0.3 0.2-0.3-0.2-0.3z"/>
<path fill="#59ffa6" d="M575.6 335.6l80 0 0 80-80 0zM646.6 349.5l-0.2 1.1 0.4 1 2.8 3 0.6-1-0.6-2.4-1.6-1.6-0.4-0.2zM579.6 376.4l-1 1.2 0 2 1 1.2 1 0.3 1-0.3 1-1.2 0-2-1-1.2-1-0.3zM651.6 376.9l-1 0.6-0.3 1.1 0.3 1.2 1 0.6 1-0.7 0.2-1.1-0.2-1.1z"/>
<path fill="#73ff8c" d="M575.6 335.6l80 0 0 80-80 0zM645.6 347.1l-0.9 0.5-0.5 1 0.2 2 3.5 5 1.7 3.6 1 1.3 1-1.7 0.3-2.2-0.2-3-0.6-2-1.1-2-1.4-1.6-2-0.9zM579.6 375.6l-1 0.8-0.6 1.2 0 2 0.6 1.2 1 0.8 1 0.2 1-0.2 1-0.8 0.6-1.2 0-2-0.6-1.2-1-0.7-1-0.3zM651.6 376.0l-1.3 0.6-0.6 1-0.2 1 0.1 1 0.5 1 0.5 0.6 1 0.2 1.3-0.8 0.7-2-0.7-2z"/>
<path fill="#8cff73" d="M575.6 335.6l80 0 0 80-80 0zM642.6 345.1l-0.8 0.5-0.2 1 0.6 2 1.5 3 3.5 5 1 3 0.4 3.9 1 0.9 1-0.5 1-1.4 1-3.2 0.2-3.7-0.9-4-1.3-2.7-2-2.2-3-1.5-2-0.3zM579.6 375.0l-1 0.6-0.8 1-0.4 1 0 2 1.2 2 1 0.6 1 0.2 1-0.2 1-0.6 0.8-1 0.4-1 0-2-1.2-2-1-0.6-1-0.1zM651.6 375.1l-1 0.3-1 1-0.7 2.2 0.2 2 0.5 1 1 0.7 1 0.1 1-0.5 1-1.1 0.5-1.2-0.1-2-0.3-1-1.1-1.2z"/>
<path fill="#a6ff59" d="M575.6 335.6l80 0 0 80-80 0zM631.8 343.6l-0.3 1 1.1 1 6 2.2 2 1.3 1 1 4 5.5 1 2 0.5 2 0.5 5.5 1 1.1 1 0 1-0.6 1-1.2 1-2 0.7-2.8 0.2-3-0.8-5-0.9-2-1.2-2-2-2-2-1.4-3.7-1.6-2.3-0.6-2.4-0.4-2.6 0.2-2.4 0.8zM579.6 374.4l-1 0.5-1.4 1.7-0.3 1 0 2 0.7 1.6 1 1.1 1 0.5 2 0 1-0.5 1.4-1.7 0.3-1 0-2-0.7-1.6-1-1-1-0.6zM652.6 374.6l-1-0.2-1 0.2-1.2 1-1 2-0.2 4-0.4 1-1.2 0.3-4 0.1-1.9 0.6-2.1 1.6-1 1.6-1 3.8 0 2 0.5 2 1.5 3 1 1 1.6 1 2.4 0.5 2.5-0.5 1.5-1 2-2.6 0.8-2.4 0.2-2-0.8-7 1.1-1 1.7-0.8 1-0.9 1-2.3 0-2-0.3-1-0.7-1.2zM628.9 381.6l0.7 1.2 1 0.4 1 0 1.5-0.6 0.3-1-0.8-1-2-0.4-1.2 0.4zM601.1 388.6l0.5 0.4 0.6-0.4-0.6-0.6z"/>
<path fill="#bfff40" d="M575.6 335.6l80 0 0 80-80 0zM630.3 342.6l-0.9 1-0.4 1 0.3 1 1.8 1 7.5 2.6 3 2.4 3 4 1.1 2 0.6 3 0.2 4 0.6 2 0.5 0.6 1 0.5 1-0.1 1-0.6 1.3-1.4 1.4-3 0.6-3 0.2-3-0.3-3-0.8-3-0.9-2-1.5-2.2-2-1.9-2.9-1.9-2.1-1-3.3-1-2.7-0.2-2.6 0.2-2.4 0.7zM652.6 373.8l-1-0.2-1 0.1-1.3 0.9-1.2 2-0.7 3-0.8 1.3-6 1-3.7 1.7-0.3 0.6-1.2 6.4 0.4 4 0.7 2 1.1 1.9 1 1.1 2 1.3 3 0.8 3-0.7 2-1.4 2.1-3 1.1-4-0.4-7 0.5-1 1.7-1.6 1-1.4 0.6-2 0-2-0.6-1.8-1-1.4zM579.6 373.8l-1 0.4-1.4 1.4-0.9 2 0 2 0.9 2 1.4 1.4 1 0.4 2 0 1-0.4 1.4-1.4 0.8-2 0-2-0.8-2-1.4-1.3-1-0.5zM627.5 381.6l0.3 1 0.7 1 2.1 1 2 0 2.9-1 0.5-1-1-2-1.5-1-1.9-0.4-2 0.1-1 0.4-1 0.9zM597.6 387.6l0 1.4 0.9 1.6 1.6 1 1.5 0.3 1.9-0.3 1.1-0.8 0.7-1.2 0.2-1-0.6-2-1.2-1-1.1-0.3-2-0.1-1.2 0.4-1.3 1z"/>
<path fill="#d9ff26" d="M575.6 335.6l80 0 0 40.9-0.9-1.9-1.1-1.2-1-0.6-2-0.2-1 0.5-1 1.1-0.8 1.4-1.2 3.2-1 1-7 1.2-1-0.2-4-2-3-0.3-2 0.4-1.3 0.7-0.7 1-0.1 1 0.9 2 1.2 1.2 2 0.8 3 0.3 0.8 0.7 0.2 7 1.3 4 1.7 2.4 1.9 1.6 2.1 0.9 2 0.3 2-0.3 2.2-0.9 1.8-1.5 1.8-2.5 0.8-2 0.6-3-0.3-6 0.2-1 2.1-3 0.8-1.8 0 34.8-80 0zM629.6 341.7l-1.9 1.9-0.4 1 0.2 1 1.1 1 8 2.8 2 0.9 2 1.4 2.4 2.9 1.8 3 0.7 3 0.3 5 0.8 2.1 1 1 1 0.4 1-0.1 1-0.5 1.7-1.9 1.5-3 0.7-3 0.3-3-0.2-3-0.5-3-1.1-3-2-3-2-2-2.4-1.6-3-1.4-3-0.9-3-0.3-3 0.3-2.9 0.9zM579.6 373.1l-2 1-1.2 1.5-0.7 2 0 2 0.7 2 1.2 1.5 2 1.1 2 0 2-1.1 1.2-1.5 0.6-2 0-2-0.7-2-1.1-1.4-2-1.1zM590.0 389.6l1.6 1.1 1.8-0.1 1.2-0.6 1 0.2 4 2.5 3 0.4 1.8-0.5 1.2-1 1-2 0.1-2-1-2-1.1-0.8-2-0.7-2 0-2 0.5-1 0.6-3 3.1-3-0.4-1.4 0.7z"/>
<path fill="#f2ff0d" d="M575.6 335.6l80 0 0 38.7-1-1.4-2.7-2.3 0.1-1 2-4 1.2-4 0.4-5-0.4-4-1.7-5-1.1-2-1.8-2-3-2.3-4-1.9-4-0.9-3-0.1-4 0.7-3.5 1.5-2.6 2-0.6 1-0.2 1 0.3 1 1.6 1.4 9.7 3.6 2.3 1.3 2 2 1.8 2.7 0.9 2 0.4 2 0.4 5 0.5 2.2 1 1.8 1.7 2-0.2 1-2.5 5.4-0.9 0.6-6.1 1-5-1.4-2-0.3-2 0.1-1.9 0.6-1.4 1-0.5 1 0.3 2 1.3 2 1.2 1.1 4.3 1.9 0.4 1 0.1 4 0.6 3 1.2 3 1.4 1.9 3 2.4 2 0.9 2 0.2 3-0.5 2-1 2-1.8 1.5-2.1 0.9-2 0.7-3 0.1-7 1.8-3.5 0 32.5-80 0 0-33.8 1 1.5 1 0.9 2 0.9 2 0 2-0.9 1.6-1.6 0.9-2 0.2-2-0.4-2-1-2-1.3-1.3-2-1.1-2 0-2 0.8-1 0.9-1 1.5zM607.6 387.2l-1-2.1-2-1.3-2-0.6-3 0-2 0.6-3 1.9-4 0.6-1 0.5-1 0.8-0.6 1-0.1 1 0.4 1 1.7 1 2.6 0.5 3 0.1 4 1.7 3 0.4 2-0.5 1-0.7 1-1.1 0.9-2.4z"/>
<path fill="#fff200" d="M575.6 335.6l80 0 0 12.6-1.7-3.6-1.6-2-1.7-1.6-3-1.8-2-0.9-4-1.2-2-0.2-3-0.1-3 0.3-8 2.8-3 0.6-11-1.3-4 0-4.9 0.4-4.4 1-2.6 1-1.5 1-0.7 1 0.9 1 1.2 0.1 15-1.7 7-0.2 3 0.4 2 1 2.6 2.4 1.6 1 9.8 3.6 2.4 1.4 1.6 1.4 2 2.8 1.1 2.8 0.8 7 1.6 6-0.9 3-0.6 0.8-1 0.7-4 1.1-2 0.1-6-0.9-3 0.3-2 0.8-1 0.9-0.5 1.2 0 1 0.8 2 1.7 2.2 3.6 2.8 0.4 0.7 0.9 6.3 0.6 2 1.1 2 2.4 2.8 2 1.7 2 1.1 2 0.6 2 0.1 3-0.8 3-1.9 2.2-2.6 1.5-3 0.9-3 0.4-7.2 0 28.2-80 0 0-31.2 2 1.6 2 0.7 2 0 2-0.5 2-1.3 0.9-1.3 0.8-2 0.2-2-0.2-2-1.2-3-1.5-1.8-2-1.5-2-0.6-2 0.2-2 1-1 0.9zM586.1 387.6l-0.2 2 0.4 1 1.3 1.1 3 1.1 5 0.8 5 1.9 2 0.3 2-0.4 2-1.6 1.1-2.2 0.8-4-0.3-2-0.7-1-0.9-0.7-3-1.2-3-0.4-3.3 0.3-3.7 1.2-5 1.2-2 1.6zM655.6 366.0l0 5.2-0.7-1.6z"/>
<path fill="#ffd900" d="M584.6 352.9l2.3-1.3 2.6-1 12.1-3.4 8-1.1 8-0.2 3 0.2 2 0.5 5 2.3 7.6 2.7 3.4 1.9 2 2 2 3.5 0.8 3.6 0.8 9-0.5 2-0.6 1-1.5 1.3-3 1.2-2 0.1-6-0.3-3 0.6-2.1 1.1-0.8 1-0.3 1 0 1 0.9 2 4.1 6 0.5 2 0.3 5 0.4 2.2 1.4 1.8 2.9 3 1.9 3 0 2-0.4 1-1.8 1.9-2 1.2-3 1.4-5 1.3-1.7 0.2-10.3 0-3-0.4-6-2-2-1-2-1.6-1.6-2-0.4-1-0.1-2 0.6-3-0.5-0.4-5 1.5-5 0.4-2-0.3-3-1-2-1.2-1.1-1-1.1-2-0.1-1 0.5-2 0.8-1.1 2-1.5 2-0.6 1 0 9 2.2 2.6 1 2 2 0.4 2-0.3 2 0.3 0.5 7-3.3 1-1.1 2-6.5 0.6-3.6 0-2-0.3-1-1.3-1.2-4-1.5-7-0.9-3-0.7-2-1-2-1.9-6.8-9.8-1.5-3-0.6-2-0.2-3 0.4-2 1-2z"/>
<path fill="#ffbf00" d="M593.6 351.6l6-2.1 7-1.5 7-0.5 7 0.3 3 0.7 10.9 4.1 3.3 2 2.8 3 1.4 3 0.8 5-0.1 5-0.6 2-0.7 1-1.8 1.6-2 0.9-7 0.3-4 0.8-2 1.3-0.8 1.1-0.1 1 0.5 2 3.1 5 0.9 2 0.5 4-0.1 6.1 1 1.7 2.3 2.2 1.3 2 0 2-0.4 1-2.2 2.2-3 1.5-3 0.9-5 0.8-4 0-5-0.8-3-0.9-3.2-1.7-2-2-0.6-2 0.6-2 1.9-2 3.3-2.2 1-1.8 0.2-5 1.3-7 0.1-2-0.6-1.1-2-1.2-10-2.6-3-1.3-2-1.4-2-1.8-3.1-4.6-1.2-3-0.8-4 0-3 0.4-2 1.1-2 1.7-2 2.9-2zM584.7 397.6l0.5-1 0.4-0.3 2-0.7 3.7 1 0.8 1-0.2 1-1.2 1-2.1 0.4-2.2-0.4-1.3-1z"/>
<path fill="#ffa600" d="M600.6 351.1l5-1.2 5-0.4 7 0.4 6 0.8 6 1.9 5 2.2 4 3 2.1 2.8 0.9 3.4 0 4.3-1 3.3-1.5 2-1.5 1.1-2 0.7-7 0.6-3 0.9-2 1.4-0.7 1.3 0.2 2 3 5 1.3 3 0.4 4-0.4 7 0.4 1 2.6 3 0.7 2-0.2 1-1.3 1.8-3 1.8-3 1-3 0.6-4 0.1-3-0.3-3-0.7-3.3-1.3-1.7-1.2-1.3-1.8 0-2 0.6-1 0.9-1 2.8-2.1 1-1.5 0-7.4 1.6-8 0-1-0.6-1-1-0.6-10-2.8-3-1.3-2-1.3-2.2-2-2.2-3-1.3-3-0.7-3 0-2 0.3-2 0.9-2 1.3-2 1.9-2 2-1.5 2.5-1.5z"/>
<path fill="#ff8c00" d="M600.6 352.9l5-1.4 5-0.2 4 0.6 12.3 2.7 3.7 1.2 3.7 1.8 3.3 2.8 1.5 2.2 0.6 2 0 3-1 3-1.4 2-1.1 1-2.5 1-5.1 0.7-4 1.1-1.9 1.2-0.7 1-0.2 1 0.5 2 3.2 5 1.2 3 0.3 2 0.1 3-0.7 5 0 2 2.2 3.7 0.3 1.3-0.2 1-0.7 1-1.2 1-1.9 1-3.3 0.9-2 0.3-5.5-0.2-3.5-0.9-2-1-1.4-1.1-0.6-1-0.2-1 0.2-1.1 0.6-0.9 3.1-3 0.4-1-0.5-5 0-3 0.7-4 1.5-5-0.1-1-0.7-1-1-0.5-9-2.2-3-1.3-1.7-1-2.4-2-1.6-2-1.6-3-0.7-3-0.1-2 0.4-2 0.9-2 1.3-2 3.5-3.4z"/>
<path fill="#ff7300" d="M602.6 353.3l3-0.7 3-0.2 3 0.3 3 0.8 4.3 2.1 3.7 2.8 5 0 2 0.3 2 0.8 2.7 2.1 1.8 3 0.4 2-0.1 2-0.6 2-1.6 2-1.9 1-6.7 1.2-2 0.6-2.3 1.2-1.2 1-0.4 1 0.3 1 4.9 7 0.9 2 0.6 3 0 4-1.4 7 1 3 0.1 1-0.3 1-0.9 1-1.8 1-3.5 0.8-4 0-3.3-0.8-1.8-1-0.9-1-0.3-1 0.2-1 2.1-2.8 0.3-1.2-1.1-6 0-3 0.8-4.5 2.2-5.5 0.2-1-0.4-1.3-1.5-0.7-4.5-0.4-3.5-0.6-4.5-1.7-2-1.3-2.1-2-1.4-2-0.9-2-0.7-3 0-2 0.8-3 1-2 1.6-2 1.7-1.6 2.1-1.4z"/>
<path fill="#ff5900" d="M594.0 364.6l0.4-2 0.8-2 1.3-2 2.1-2.1 2-1.3 3-1.2 3-0.6 3 0 4 1 3 1.6 2.6 2.6 2.4 3.9 1 0.8 3-0.9 2-0.2 2 0.3 2 1.5 1 1.5 0.3 2.1-0.3 1.7-1 1.3-2.2 1-3.8 0.5-1 0.4-2.6 2.1-1.4 0.7-9 2.6-4 0.2-3-0.4-3-1-2.1-1.1-1.9-1.5-2-2.5-0.9-2-0.6-2zM617.6 381.1l1 0.1 1 0.4 3 2.7 2.2 3.3 1 4 0 4-1.2 4.1-1 1.6-1 1-2 0.8-3 0-3-0.9-1-0.9-1-1.6-1.2-4.1 0-4 1.2-4.6 1-1.9 2-2.8 1-0.8z"/>
<path fill="#ff4000" d="M596.6 360.6l1.4-2 1.6-1.4 2-1.3 2-0.8 2-0.5 3-0.2 2 0.2 2.9 1 3 2 2.2 3 0.7 2 0.5 3 1.7 5 0.1 2-0.5 1-1.6 0.9-4 0.6-5 1.6-2 0.2-3-0.1-3.8-1.2-2.2-1.4-1.7-1.6-1.4-2-0.8-2-0.4-2 0-2 0.4-2zM617.6 382.9l2 0.1 2 1.3 1 1 1.5 2.3 0.9 3 0.2 4-0.6 3.1-1 1.8-1 0.9-2 0.6-3 0.1-3-0.8-1.5-1.7-1-3-0.1-4 1.1-4 1.1-2 1.4-1.6z"/>
<path fill="#ff2600" d="M598.6 360.6l1.8-2 1.4-1 2.1-1 1.7-0.4 4 0 1.9 0.4 2.1 1 2 1.7 1 1.4 1.4 4.9 2.4 5 0.2 1-0.2 1-0.8 0.8-1 0.2-4 0.1-3 1-3 0.5-4-0.4-2.9-1.2-1.4-1-1.7-2-1.3-3-0.2-2 0.2-2zM617.6 384.1l2 0.1 2 1.2 1.6 2.2 1.1 3 0.2 4-0.8 3-1.1 1.3-2 0.9-3 0.1-2-0.5-1-0.5-1-1.2-0.7-2.1-0.2-4 0.9-3.3 1-1.9 1-1.1z"/>
<path fill="#ff0d00" d="M616.2 368.6l0.4-0.2 1 0.1 1 1 0.7 1.1-0.1 1-0.6 0.6-1 0.1-1.5-0.7-0.6-1 0-1zM618.6 385.3l2 0.6 1.6 1.7 0.9 2 0.6 3-0.4 3-1 2-1.7 1.1-2 0.3-2.1-0.4-1.9-1.5-1-2.5-0.1-2 0.5-3 1-2 1.6-1.7z"/>
<path fill="#f20000" d="M618.6 386.8l1 0.2 1 0.5 0.9 1.1 0.8 2 0.3 2-0.2 2-0.8 1.7-1 0.9-2 0.6-2-0.6-1-0.9-0.8-1.7-0.2-2 0.3-2 0.8-2 0.9-1.1 1-0.6z"/>
<path fill="#d90000" d="M618.6 388.9l1 0.3 1 1.2 0.4 2.2-0.4 2-1 1.1-1 0.2-1-0.2-1-1.1-0.4-2 0.4-2.2 1-1.2z"/>
</g>
<path fill="none" stroke="#000" stroke-opacity="0.35" stroke-width="0.45" d="M646.6 349.5l-0.2 1.1 0.4 1 2.8 3 0.6-1-0.6-2.4-1.6-1.6-0.4-0.2zM579.6 376.4l-1 1.2 0 2 1 1.2 1 0.3 1-0.3 1-1.2 0-2-1-1.2-1-0.3zM651.6 376.9l-1 0.6-0.3 1.1 0.3 1.2 1 0.6 1-0.7 0.2-1.1-0.2-1.1zM630.3 342.6l-0.9 1-0.4 1 0.3 1 1.8 1 7.5 2.6 3 2.4 3 4 1.1 2 0.6 3 0.2 4 0.6 2 0.5 0.6 1 0.5 1-0.1 1-0.6 1.3-1.4 1.4-3 0.6-3 0.2-3-0.3-3-0.8-3-0.9-2-1.5-2.2-2-1.9-2.9-1.9-2.1-1-3.3-1-2.7-0.2-2.6 0.2-2.4 0.7zM652.6 373.8l-1-0.2-1 0.1-1.3 0.9-1.2 2-0.7 3-0.8 1.3-6 1-3.7 1.7-0.3 0.6-1.2 6.4 0.4 4 0.7 2 1.1 1.9 1 1.1 2 1.3 3 0.8 3-0.7 2-1.4 2.1-3 1.1-4-0.4-7 0.5-1 1.7-1.6 1-1.4 0.6-2 0-2-0.6-1.8-1-1.4zM579.6 373.8l-1 0.4-1.4 1.4-0.9 2 0 2 0.9 2 1.4 1.4 1 0.4 2 0 1-0.4 1.4-1.4 0.8-2 0-2-0.8-2-1.4-1.3-1-0.5zM627.6 380.6l-0.1 1 0.3 1 0.8 1.1 2 0.9 2 0 2.9-1 0.5-1-1-2-1.4-0.9-1-0.3-3-0.1-1 0.4zM597.6 387.6l0 1.4 0.9 1.6 1.6 1 1.5 0.3 1.9-0.3 1.1-0.8 0.7-1.2 0.2-1-0.6-2-1.2-1-1.1-0.3-2-0.1-1.2 0.4-1.3 1zM612.6 415.6l-1-0.1-1-0.2-1-0.1-1-0.3-1-0.3 0 0-1-0.2-1-0.3-1-0.5-0.1 0-0.9-0.4-1-0.5-0.2-0.1-0.8-0.4-0.8-0.6-0.2-0.1-1-0.9 0 0-0.9-1-0.1-0.1-0.6-0.9-0.4-1 0-0.3-0.1-0.7 0-1 0.1-0.9 0-0.1 0.2-1 0.3-1-0.5-0.4-1 0.4 0 0-1 0.4-1 0.3-1 0.2-0.4 0.1-0.6 0.1-1 0.2-1 0.1-1 0.1-1 0-1 0-1-0.1-1-0.2-0.7-0.2-0.3-0.1-1-0.2-1-0.5-0.5-0.2-0.5-0.3-1-0.7-0.1 0-0.9-0.9-0.1-0.1-0.7-1-0.2-0.6-0.2-0.4-0.1-1 0.1-1 0.2-0.4 0.2-0.6 0.7-1 0.1-0.1 1-0.8 0.1-0.1 0.9-0.6 1-0.3 0.2-0.1 0.8-0.2 1 0 1 0.2 0 0 1 0.3 1 0.2 1 0.3 1 0.2 0 0 1 0.3 1 0.2 1 0.3 1 0.2 0 0 1 0.4 1 0.3 0.6 0.3 0.4 0.4 0.8 0.6 0.2 0.3 0.6 0.7 0.3 1 0.1 0.7 0 0.3 0 0.3-0.1 0.7-0.2 1 0.3 0.5 1-0.5 0 0 1-0.5 1-0.4 0.3-0.1 0.7-0.3 1-0.4 0.6-0.3 0.4-0.2 1-0.6 0.2-0.2 0.8-0.9 0.1-0.1 0.3-1 0.3-1 0.3-0.7 0.1-0.3 0.2-1 0.3-1 0.3-1 0.1-0.4 0.1-0.6 0.2-1 0.2-1 0.1-1 0.1-1-0.1-1-0.3-1-0.3-0.4-0.6-0.6-0.4-0.2-1-0.5-0.7-0.3-0.3-0.1-1-0.3-1-0.3-1-0.2-0.6-0.1-0.4-0.1-1-0.1-1-0.1-1-0.1-1-0.1-1-0.1-1-0.2-1-0.2 0 0-1-0.3-1-0.5-0.4-0.2-0.6-0.3-0.8-0.7-0.2-0.1-0.8-0.9-0.2-0.2-0.5-0.8-0.5-0.7-0.2-0.3-0.6-1-0.2-0.3-0.5-0.7-0.5-0.8-0.1-0.2-0.8-1-0.1-0.2-0.6-0.8-0.4-0.6-0.4-0.4-0.6-0.9-0.1-0.1-0.7-1-0.2-0.4-0.4-0.6-0.4-1-0.2-0.4-0.3-0.6-0.3-1-0.3-1-0.1-0.7-0.1-0.3-0.1-1 0.1-1 0.1-0.9 0-0.1 0.3-1 0.4-1 0.3-0.5 0.3-0.5 0.7-0.9 0.1-0.1 0.9-0.9 0.1-0.1 0.9-0.7 0.5-0.3 0.5-0.3 1-0.5 0.3-0.2 0.7-0.3 1-0.4 0.9-0.3 0.1 0 1-0.4 1-0.3 1-0.3 0.1 0 0.9-0.3 1-0.3 1-0.3 0.5-0.1 0.5-0.1 1-0.3 1-0.3 1-0.2 0.3-0.1 0.7-0.2 1-0.2 1-0.2 1-0.2 1-0.1 0.6-0.1 0.4-0.1 1-0.1 1-0.1 1-0.1 1-0.1 1-0.1 1 0 1-0.1 1 0 1 0 1 0 1 0 1 0 1 0.1 1 0 1 0.1 1 0.2 0.9 0.3 0.1 0 1 0.4 1 0.5 0.2 0.1 0.8 0.4 1 0.5 0.3 0.1 0.7 0.3 1 0.4 1 0.2 0.2 0.1 0.8 0.3 1 0.3 1 0.3 0.2 0.1 0.8 0.3 1 0.4 0.6 0.3 0.4 0.2 1 0.5 0.6 0.3 0.4 0.3 1 0.6 0.1 0.1 0.9 0.8 0.2 0.2 0.8 0.9 0.1 0.1 0.7 1 0.2 0.4 0.3 0.6 0.5 1 0.2 0.4 0.2 0.6 0.3 1 0.1 1 0.2 1 0.1 1 0.1 1 0 0.6 0 0.4 0.1 1 0.1 1 0.1 1 0.2 1 0.1 1 0 1-0.2 1-0.3 1-0.1 0.2-0.5 0.8-0.5 0.6-0.5 0.4-0.5 0.3-1 0.6-0.3 0.1-0.7 0.2-1 0.3-1 0.1-1 0-1 0-1-0.1-1-0.1-1-0.1-1 0-1 0-1 0.1-1 0.2-1 0.3-0.4 0.1-0.6 0.3-1 0.6-0.1 0.1-0.8 1-0.1 0.2-0.2 0.8 0 1 0.2 0.4 0.2 0.6 0.5 1 0.3 0.4 0.4 0.6 0.6 0.9 0.1 0.1 0.8 1 0.1 0.2 0.7 0.8 0.3 0.6 0.4 0.4 0.4 1 0.2 0.7 0.1 0.3 0.2 1 0.1 1 0.1 1 0 1 0 1 0.1 1 0.1 1 0.2 1 0.1 0.2 0.5 0.8 0.5 0.6 0.4 0.4 0.6 0.6 0.4 0.4 0.6 0.6 0.4 0.4 0.6 0.7 0.3 0.3 0.7 0.9 0.1 0.1 0.6 1 0.3 0.6 0.2 0.4 0.2 1-0.2 1-0.2 0.5-0.2 0.5-0.8 1 0 0-1 0.9-0.2 0.1-0.8 0.6-0.8 0.4-0.2 0.1-1 0.5-0.9 0.4-0.1 0-1 0.5-1 0.3-0.9 0.2-0.1 0-1 0.4-1 0.2-1 0.2-1 0.1-0.7 0.1M602.6 353.3l3-0.7 3-0.2 3 0.3 3 0.8 4.3 2.1 3.7 2.8 5 0 2 0.3 2 0.8 2.7 2.1 1.8 3 0.4 2-0.1 2-0.6 2-1.6 2-1.9 1-6.7 1.2-2 0.6-2.3 1.2-1.2 1-0.4 1 0.3 1 4.9 7 0.9 2 0.6 3 0 4-1.4 7 1 3 0.1 1-0.3 1-0.9 1-1.8 1-3.5 0.8-4 0-3.3-0.8-1.8-1-0.9-1-0.3-1 0.2-1 2.1-2.8 0.3-1.2-1.1-6 0-3 0.8-4.5 2.2-5.5 0.2-1-0.4-1.3-1.5-0.7-4.5-0.4-3.5-0.6-4.5-1.7-2-1.3-2.1-2-1.4-2-0.9-2-0.7-3 0-2 0.8-3 1-2 1.6-2 1.7-1.6 2.1-1.4zM616.2 368.6l0.4-0.2 1 0.1 1 1 0.7 1.1-0.1 1-0.6 0.6-1 0.1-1.5-0.7-0.6-1 0-1zM618.6 385.3l2 0.6 1.6 1.7 0.9 2 0.6 3-0.4 3-1 2-1.7 1.1-2 0.3-2.1-0.4-1.9-1.5-1-2.5-0.1-2 0.5-3 1-2 1.6-1.7z"/>
</g>
<g fill="none" stroke="#111" stroke-width="0.9">
<circle cx="615.6" cy="375.6" r="23.7"/>
<path d="M612.00 352.20 L615.60 348.70 L619.20 352.20"/>
<rect x="589.60" y="369.60" width="2.9" height="12.8" rx="1.2"/>
<rect x="638.70" y="369.60" width="2.9" height="12.8" rx="1.2"/>
</g>
<g fill="#111"><circle cx="610.30" cy="399.10" r="1.05"/><circle cx="620.90" cy="399.10" r="1.05"/><circle cx="607.50" cy="400.80" r="1.05"/><circle cx="623.70" cy="400.80" r="1.05"/><circle cx="613.00" cy="402.10" r="1.05"/><circle cx="618.20" cy="402.10" r="1.05"/><circle cx="609.60" cy="403.30" r="1.05"/><circle cx="621.60" cy="403.30" r="1.05"/><circle cx="606.50" cy="405.60" r="1.05"/><circle cx="624.70" cy="405.60" r="1.05"/><circle cx="612.30" cy="406.60" r="1.05"/><circle cx="618.90" cy="406.60" r="1.05"/></g>
<rect x="314.1" y="344.5" width="7.8" height="61.80000000000001" fill="url(#jet)" stroke="#333" stroke-width="0.5"/>
<text x="323.30" y="349.39" font-size="7.6" text-anchor="start" font-weight="normal" fill="#222" >0.4</text>
<text x="323.30" y="359.87" font-size="7.6" text-anchor="start" font-weight="normal" fill="#222" >0.2</text>
<text x="323.30" y="370.34" font-size="7.6" text-anchor="start" font-weight="normal" fill="#222" >0</text>
<text x="323.30" y="380.82" font-size="7.6" text-anchor="start" font-weight="normal" fill="#222" >-0.2</text>
<text x="323.30" y="391.29" font-size="7.6" text-anchor="start" font-weight="normal" fill="#222" >-0.4</text>
<text x="323.30" y="401.77" font-size="7.6" text-anchor="start" font-weight="normal" fill="#222" >-0.6</text>
<rect x="659.1" y="342.7" width="7.9" height="63.30000000000001" fill="url(#jet)" stroke="#333" stroke-width="0.5"/>
<text x="668.80" y="362.09" font-size="7.6" text-anchor="start" font-weight="normal" fill="#222" >0</text>
<text x="668.80" y="381.15" font-size="7.6" text-anchor="start" font-weight="normal" fill="#222" >-0.2</text>
<text x="668.80" y="400.22" font-size="7.6" text-anchor="start" font-weight="normal" fill="#222" >-0.4</text>
<text x="63.75" y="435.50" font-size="14.4" text-anchor="middle" font-weight="normal" fill="#000" >Clean air</text>
<text x="171.60" y="435.50" font-size="14.4" text-anchor="middle" font-weight="normal" fill="#000" >Happiness</text>
<text x="276.30" y="435.50" font-size="14.4" text-anchor="middle" font-weight="normal" fill="#000" >Fear</text>
<text x="408.20" y="435.50" font-size="14.4" text-anchor="middle" font-weight="normal" fill="#000" >Clean air</text>
<text x="516.20" y="435.50" font-size="14.4" text-anchor="middle" font-weight="normal" fill="#000" >Happiness</text>
<text x="620.80" y="435.50" font-size="14.4" text-anchor="middle" font-weight="normal" fill="#000" >Fear</text>
</svg>
</body></html>
